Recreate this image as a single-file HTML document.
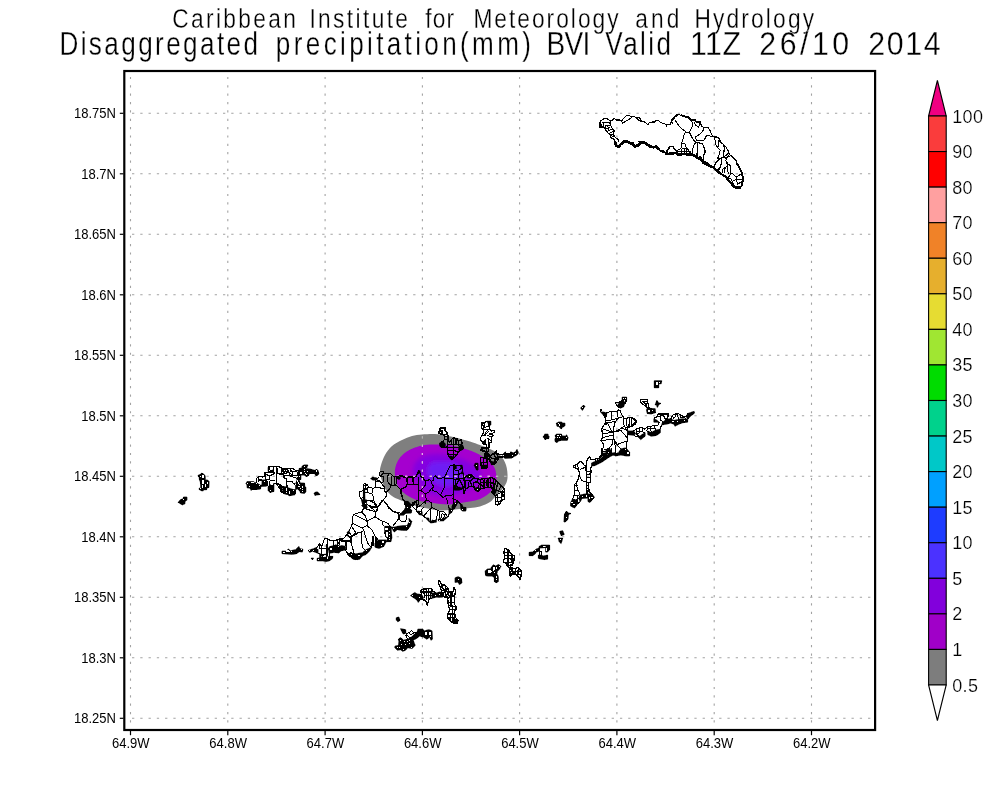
<!DOCTYPE html>
<html><head><meta charset="utf-8"><title>Disaggregated precipitation BVI</title>
<style>html,body{margin:0;padding:0;background:#fff}body{width:1000px;height:800px;overflow:hidden}svg{display:block}text{font-family:"Liberation Sans",sans-serif;fill:#000}.thin{stroke:#fff;stroke-width:.3px;paint-order:fill stroke}.isl{fill:#fff;stroke:#000;stroke-width:1;stroke-linejoin:round}.in{fill:none;stroke:#000;stroke-width:.8;stroke-linejoin:round;stroke-linecap:round}.tk{fill:none;stroke:#000;stroke-width:2.2;stroke-linejoin:round;stroke-linecap:round}.blk{fill:#000;stroke:#000;stroke-width:1;stroke-linejoin:round}</style></head><body>
<svg width="1000" height="800" viewBox="0 0 1000 800">
<rect width="1000" height="800" fill="#fff"/>
<defs><filter id="nf" x="-5%" y="-50%" width="110%" height="200%"><feOffset dx="0" dy="0"/></filter></defs>
<g id="titles" filter="url(#nf)">
<g font-size="28.4" class="thin">
<text transform="scale(0.8,1)" x="215.37" y="27.7" textLength="154.58" lengthAdjust="spacing">Caribbean</text>
<text transform="scale(0.8,1)" x="386.75" y="27.7" textLength="123.25" lengthAdjust="spacing">Institute</text>
<text transform="scale(0.8,1)" x="531.58" y="27.7" textLength="36.12" lengthAdjust="spacing">for</text>
<text transform="scale(0.8,1)" x="591.73" y="27.7" textLength="181.50" lengthAdjust="spacing">Meteorology</text>
<text transform="scale(0.8,1)" x="794.12" y="27.7" textLength="55.22" lengthAdjust="spacing">and</text>
<text transform="scale(0.8,1)" x="868.00" y="27.7" textLength="149.57" lengthAdjust="spacing">Hydrology</text>
</g>
<g font-size="32.6" class="thin">
<text transform="scale(0.8,1)" x="74.25" y="54.7" textLength="248.25" lengthAdjust="spacing">Disaggregated</text>
<text transform="scale(0.8,1)" x="344.85" y="54.7" textLength="318.85" lengthAdjust="spacing">precipitation(mm)</text>
<text transform="scale(0.86,1)" x="635.42" y="54.7" textLength="51.07" lengthAdjust="spacing">BVI</text>
<text transform="scale(0.8,1)" x="756.62" y="54.7" textLength="82.07" lengthAdjust="spacing">Valid</text>
<text transform="scale(0.93,1)" x="741.91" y="54.7" textLength="54.95" lengthAdjust="spacing">11Z</text>
<text transform="scale(0.93,1)" x="816.54" y="54.7" textLength="96.43" lengthAdjust="spacing">26/10</text>
<text transform="scale(0.93,1)" x="933.72" y="54.7" textLength="77.61" lengthAdjust="spacing">2014</text>
</g>
</g>
<defs><filter id="b1" x="-10%" y="-10%" width="120%" height="120%"><feGaussianBlur stdDeviation="0.5"/></filter><filter id="b2" x="-20%" y="-20%" width="140%" height="140%"><feGaussianBlur stdDeviation="2.2"/></filter><clipPath id="cpG"><path d="M380.0 472.0C379.8 469.3 380.2 467.8 381.0 465.0C381.8 462.2 383.2 458.2 385.0 455.0C386.8 451.8 389.2 448.5 392.0 446.0C394.8 443.5 398.7 441.7 402.0 440.0C405.3 438.3 408.7 436.9 412.0 436.0C415.3 435.1 418.2 434.8 422.0 434.5C425.8 434.2 431.2 433.8 435.0 434.0C438.8 434.2 441.7 434.9 445.0 435.5C448.3 436.1 450.8 436.5 455.0 437.5C459.2 438.5 465.8 440.2 470.0 441.5C474.2 442.8 476.7 443.8 480.0 445.0C483.3 446.2 486.7 447.3 490.0 449.0C493.3 450.7 497.3 452.3 500.0 455.0C502.7 457.7 504.8 461.2 506.0 465.0C507.2 468.8 507.8 474.3 507.5 478.0C507.2 481.7 506.1 483.8 504.0 487.0C501.9 490.2 497.3 494.5 495.0 497.0C492.7 499.5 492.5 500.4 490.0 502.0C487.5 503.6 483.3 505.5 480.0 506.5C476.7 507.5 473.3 507.6 470.0 508.0C466.7 508.4 463.3 508.7 460.0 509.0C456.7 509.3 453.3 509.8 450.0 510.0C446.7 510.2 443.3 510.7 440.0 510.5C436.7 510.3 433.3 509.6 430.0 509.0C426.7 508.4 423.3 507.8 420.0 507.0C416.7 506.2 413.3 505.2 410.0 504.0C406.7 502.8 403.0 501.3 400.0 500.0C397.0 498.7 394.3 497.7 392.0 496.0C389.7 494.3 387.7 492.5 386.0 490.0C384.3 487.5 383.0 484.0 382.0 481.0C381.0 478.0 380.2 474.7 380.0 472.0Z"/></clipPath><clipPath id="cpP"><path d="M395.0 475.0C394.6 471.8 394.8 469.7 395.5 467.0C396.2 464.3 397.2 461.5 399.0 459.0C400.8 456.5 403.3 453.9 406.0 452.0C408.7 450.1 411.8 448.7 415.0 447.5C418.2 446.3 421.7 445.5 425.0 445.0C428.3 444.5 430.8 444.5 435.0 444.5C439.2 444.5 444.2 444.0 450.0 445.0C455.8 446.0 465.0 448.8 470.0 450.5C475.0 452.2 476.7 453.1 480.0 455.0C483.3 456.9 487.5 459.7 490.0 462.0C492.5 464.3 493.9 466.3 495.0 469.0C496.1 471.7 496.5 475.3 496.5 478.0C496.5 480.7 495.9 482.8 495.0 485.0C494.1 487.2 492.3 489.3 491.0 491.0C489.7 492.7 488.8 493.7 487.0 495.0C485.2 496.3 482.8 497.9 480.0 499.0C477.2 500.1 473.3 500.8 470.0 501.5C466.7 502.2 463.3 502.5 460.0 503.0C456.7 503.5 453.3 504.3 450.0 504.5C446.7 504.7 443.3 504.3 440.0 504.0C436.7 503.7 433.3 503.0 430.0 502.5C426.7 502.0 423.0 501.8 420.0 501.0C417.0 500.2 414.7 499.3 412.0 498.0C409.3 496.7 406.3 495.0 404.0 493.0C401.7 491.0 399.5 489.0 398.0 486.0C396.5 483.0 395.4 478.2 395.0 475.0Z"/></clipPath></defs>
<g id="shade">
<g filter="url(#b1)"><path d="M380.0 472.0C379.8 469.3 380.2 467.8 381.0 465.0C381.8 462.2 383.2 458.2 385.0 455.0C386.8 451.8 389.2 448.5 392.0 446.0C394.8 443.5 398.7 441.7 402.0 440.0C405.3 438.3 408.7 436.9 412.0 436.0C415.3 435.1 418.2 434.8 422.0 434.5C425.8 434.2 431.2 433.8 435.0 434.0C438.8 434.2 441.7 434.9 445.0 435.5C448.3 436.1 450.8 436.5 455.0 437.5C459.2 438.5 465.8 440.2 470.0 441.5C474.2 442.8 476.7 443.8 480.0 445.0C483.3 446.2 486.7 447.3 490.0 449.0C493.3 450.7 497.3 452.3 500.0 455.0C502.7 457.7 504.8 461.2 506.0 465.0C507.2 468.8 507.8 474.3 507.5 478.0C507.2 481.7 506.1 483.8 504.0 487.0C501.9 490.2 497.3 494.5 495.0 497.0C492.7 499.5 492.5 500.4 490.0 502.0C487.5 503.6 483.3 505.5 480.0 506.5C476.7 507.5 473.3 507.6 470.0 508.0C466.7 508.4 463.3 508.7 460.0 509.0C456.7 509.3 453.3 509.8 450.0 510.0C446.7 510.2 443.3 510.7 440.0 510.5C436.7 510.3 433.3 509.6 430.0 509.0C426.7 508.4 423.3 507.8 420.0 507.0C416.7 506.2 413.3 505.2 410.0 504.0C406.7 502.8 403.0 501.3 400.0 500.0C397.0 498.7 394.3 497.7 392.0 496.0C389.7 494.3 387.7 492.5 386.0 490.0C384.3 487.5 383.0 484.0 382.0 481.0C381.0 478.0 380.2 474.7 380.0 472.0Z" fill="#7f7f7f"/>
<path d="M395.0 475.0C394.6 471.8 394.8 469.7 395.5 467.0C396.2 464.3 397.2 461.5 399.0 459.0C400.8 456.5 403.3 453.9 406.0 452.0C408.7 450.1 411.8 448.7 415.0 447.5C418.2 446.3 421.7 445.5 425.0 445.0C428.3 444.5 430.8 444.5 435.0 444.5C439.2 444.5 444.2 444.0 450.0 445.0C455.8 446.0 465.0 448.8 470.0 450.5C475.0 452.2 476.7 453.1 480.0 455.0C483.3 456.9 487.5 459.7 490.0 462.0C492.5 464.3 493.9 466.3 495.0 469.0C496.1 471.7 496.5 475.3 496.5 478.0C496.5 480.7 495.9 482.8 495.0 485.0C494.1 487.2 492.3 489.3 491.0 491.0C489.7 492.7 488.8 493.7 487.0 495.0C485.2 496.3 482.8 497.9 480.0 499.0C477.2 500.1 473.3 500.8 470.0 501.5C466.7 502.2 463.3 502.5 460.0 503.0C456.7 503.5 453.3 504.3 450.0 504.5C446.7 504.7 443.3 504.3 440.0 504.0C436.7 503.7 433.3 503.0 430.0 502.5C426.7 502.0 423.0 501.8 420.0 501.0C417.0 500.2 414.7 499.3 412.0 498.0C409.3 496.7 406.3 495.0 404.0 493.0C401.7 491.0 399.5 489.0 398.0 486.0C396.5 483.0 395.4 478.2 395.0 475.0Z" fill="#a500cf"/></g>
<g clip-path="url(#cpP)"><g filter="url(#b2)"><path d="M414.9 463.8C416.6 460.8 419.9 457.6 424.0 456.0C428.1 454.4 434.0 453.8 439.6 454.0C445.2 454.2 452.2 455.4 457.8 457.3C463.4 459.2 469.5 462.3 473.4 465.1C477.3 467.9 480.8 470.9 481.2 474.2C481.6 477.4 479.0 481.6 476.0 484.6C473.0 487.6 468.0 490.4 463.0 492.4C458.0 494.3 451.5 496.1 446.1 496.3C440.7 496.5 434.8 495.4 430.5 493.7C426.2 492.0 422.9 489.1 420.1 485.9C417.3 482.6 414.5 477.9 413.6 474.2C412.7 470.5 413.2 466.8 414.9 463.8Z" fill="#8400e0"/>
<path d="M431.9 462.8C436.0 461.3 447.5 461.5 452.4 462.8C457.3 464.1 460.2 467.6 461.2 470.6C462.2 473.6 461.2 478.4 458.6 481.0C456.1 483.6 450.1 486.2 445.9 486.2C441.7 486.2 436.2 483.4 433.2 481.0C430.2 478.6 428.2 474.9 428.0 471.9C427.8 468.9 427.8 464.3 431.9 462.8Z" fill="#6e1ef4"/></g></g>
</g>
<g id="grid" fill="none" stroke="#a2a2a2" stroke-width="1.1">
<g stroke-dasharray="2.2 6.156">
<path d="M130.5 76.9V728.5"/>
<path d="M227.8 76.9V728.5"/>
<path d="M325.1 76.9V728.5"/>
<path d="M422.4 76.9V728.5"/>
<path d="M519.6 76.9V728.5"/>
<path d="M616.9 76.9V728.5"/>
<path d="M714.2 76.9V728.5"/>
<path d="M811.5 76.9V728.5"/>
</g><g stroke-dasharray="2.3 5.97">
<path d="M132 113.3H873"/>
<path d="M132 173.8H873"/>
<path d="M132 234.3H873"/>
<path d="M132 294.8H873"/>
<path d="M132 355.3H873"/>
<path d="M132 415.8H873"/>
<path d="M132 476.3H873"/>
<path d="M132 536.8H873"/>
<path d="M132 597.3H873"/>
<path d="M132 657.8H873"/>
<path d="M132 718.3H873"/>
</g></g>
<g fill="none" stroke-width="1.15">
<g clip-path="url(#cpG)" stroke="#b2b2b2"><path stroke-dasharray="2.2 6.156" d="M422.4 76.9V728.5"/><path stroke-dasharray="2.3 5.97" d="M132 476.3H873"/></g>
<g clip-path="url(#cpP)" stroke="#e6a6ec"><path stroke-dasharray="2.2 6.156" d="M422.4 76.9V728.5"/><path stroke-dasharray="2.3 5.97" d="M132 476.3H873"/></g>
</g>
<g id="islands" fill="none" stroke="#000" stroke-linejoin="round" stroke-linecap="butt" shape-rendering="crispEdges">
<path d="M600.2 121.6L603.4 118.8L607.0 118.4L610.6 121.2L614.2 118.4L616.2 120.0L619.8 120.0L621.8 121.2L622.6 119.2L627.0 115.2L630.2 116.0L633.4 116.4L636.6 117.6L639.8 118.0L641.4 121.2L644.6 122.0L648.2 124.8L649.4 122.4L654.2 122.0L655.8 120.4L658.6 120.8L661.4 122.8L666.2 124.4L666.6 126.0L667.0 124.4L670.6 124.0L671.8 120.4L675.0 117.6" stroke-width="1.0"/>
<path d="M610.6 121.2L614.2 118.4L616.2 120.0L619.8 120.0" stroke-width="1.3"/>
<path d="M621.8 121.2L622.6 123.2L631.8 117.6L630.2 116.0" stroke-width="1.0"/>
<path d="M636.6 117.6L639.8 118.0L641.4 121.2L638.6 120.4L636.6 117.6" stroke-width="1.3"/>
<path d="M649.4 122.4L654.2 122.0L655.8 120.4L658.6 120.8" stroke-width="1.3"/>
<path d="M600.2 121.6L600.2 127.2L603.8 127.2" stroke-width="2.0"/>
<path d="M600.2 121.6L603.4 118.8L607.0 118.4L610.6 121.2L610.6 125.2" stroke-width="1.3"/>
<path d="M603.8 122.0L603.8 127.2" stroke-width="1.0"/>
<path d="M601.8 122.0L609.4 122.0L610.6 125.2L605.4 125.6" stroke-width="1.0"/>
<path d="M601.8 123.6L601.8 127.2" stroke-width="1.0"/>
<path d="M603.8 127.2L605.4 129.2L607.8 132.8L610.2 134.8L611.0 138.0L614.2 139.2L615.0 142.0" stroke-width="1.3"/>
<path d="M610.6 125.2L612.2 128.4L614.6 131.2L613.0 134.0L615.8 138.0L618.6 139.6L618.2 142.0" stroke-width="1.0"/>
<path d="M605.4 129.2L610.2 126.8" stroke-width="1.0"/>
<path d="M607.0 131.6L612.2 128.8" stroke-width="1.0"/>
<path d="M608.6 133.6L614.2 131.2" stroke-width="1.0"/>
<path d="M610.6 135.6L613.0 134.0" stroke-width="1.0"/>
<path d="M611.4 137.6L614.2 135.6" stroke-width="1.0"/>
<path d="M605.4 125.6L605.4 129.2" stroke-width="1.0"/>
<path d="M607.8 126.0L609.0 130.0" stroke-width="1.0"/>
<path d="M615.0 142.0L616.2 145.6L618.6 146.8L620.6 144.4L623.8 141.6L627.0 141.2L629.4 142.8L631.8 143.6L635.0 146.4L638.2 145.2L640.6 142.4L644.6 142.8L647.0 144.4L650.2 146.4L653.4 147.2L656.6 146.8L659.0 149.2" stroke-width="2.8"/>
<path d="M659.0 149.2L661.4 151.6L664.6 152.4L667.0 153.6L671.0 154.0L675.0 153.2" stroke-width="1.3"/>
<path d="M661.4 150.0L663.8 150.0L664.6 152.4" stroke-width="1.0"/>
<path d="M667.0 153.6L667.8 150.0L670.2 146.8L673.0 146.4L674.2 149.2L675.0 150.0" stroke-width="1.0"/>
<path d="M666.2 153.6L671.0 154.0L675.0 153.2" stroke-width="2.0"/>
<path d="M630.2 142.0L633.4 142.4L633.4 144.0" stroke-width="1.0"/>
<path d="M638.2 142.0L643.0 141.6" stroke-width="1.0"/>
<path d="M654.6 145.2L657.0 145.2" stroke-width="1.0"/>
<path d="M665.0 124.8L666.6 124.8L666.6 126.4L667.0 124.4L670.6 124.0L671.4 120.4" stroke-width="1.0"/>
<path d="M671.4 120.4L674.6 116.8L677.8 114.4" stroke-width="2.0"/>
<path d="M677.8 114.4L681.0 115.2" stroke-width="1.0"/>
<path d="M681.0 115.2L685.0 116.4L689.0 117.6L691.4 120.0" stroke-width="2.0"/>
<path d="M691.4 120.0L695.4 120.0L696.2 122.0L700.2 122.0L701.4 126.0L703.4 127.2" stroke-width="1.3"/>
<path d="M670.2 122.0L672.6 122.0L672.6 124.0" stroke-width="1.0"/>
<path d="M703.4 127.2L707.8 127.2L709.8 130.0L711.4 134.0L713.8 136.8" stroke-width="1.0"/>
<path d="M713.8 136.8L717.0 137.2L719.8 139.2L720.2 142.0" stroke-width="1.3"/>
<path d="M720.2 142.0L723.4 144.4L725.8 146.8L728.2 150.8L729.8 154.8L733.0 157.2L735.8 160.4L737.8 165.2L740.2 169.2L741.8 174.0" stroke-width="1.0"/>
<path d="M733.0 157.2L735.8 160.4L737.8 165.2L740.2 169.2L741.8 174.0" stroke-width="1.3"/>
<path d="M665.0 153.6L669.0 154.0L673.0 152.8L677.0 153.2L678.6 154.8L683.4 154.0L688.2 154.4L692.2 154.4L695.4 156.4L697.8 158.0L701.0 159.6L703.4 162.8L706.6 164.4L709.8 166.0L713.0 167.2L716.2 170.0L719.4 173.2" stroke-width="2.6"/>
<path d="M666.6 151.6L667.4 150.0L669.8 146.8L672.6 146.4L675.4 150.0L677.0 151.6" stroke-width="1.3"/>
<path d="M677.8 150.0L681.0 148.4L682.2 143.6L685.0 143.6L686.2 147.6L689.0 150.8L691.4 153.6" stroke-width="1.0"/>
<path d="M677.8 150.0L677.8 153.6" stroke-width="1.0"/>
<path d="M681.0 148.4L681.4 153.2" stroke-width="1.0"/>
<path d="M684.2 147.6L684.2 153.2" stroke-width="1.0"/>
<path d="M686.2 147.6L686.6 153.2" stroke-width="1.0"/>
<path d="M689.0 150.8L689.0 154.0" stroke-width="1.0"/>
<path d="M677.8 151.6L690.6 151.6" stroke-width="1.0"/>
<path d="M682.2 148.4L686.2 148.4" stroke-width="1.0"/>
<path d="M696.2 153.2L696.2 156.4" stroke-width="1.0"/>
<path d="M699.4 155.6L702.6 159.6" stroke-width="1.0"/>
<path d="M705.0 161.2L709.8 164.4" stroke-width="1.0"/>
<path d="M675.0 120.0L678.2 124.8L681.8 128.8L686.2 132.0L689.0 132.0" stroke-width="1.0"/>
<path d="M686.2 132.0L684.2 134.0L683.0 138.8L681.8 143.2L681.0 148.4" stroke-width="1.0"/>
<path d="M691.4 120.0L692.6 124.4L691.8 128.0L690.2 130.0L689.8 133.2L691.8 137.2L694.2 140.8L695.8 142.4" stroke-width="1.0"/>
<path d="M695.8 142.4L693.8 145.2L692.6 149.2L692.6 154.4" stroke-width="1.0"/>
<path d="M695.8 142.4L697.4 142.8L697.4 157.2" stroke-width="1.3"/>
<path d="M697.4 142.8L701.8 143.2L703.8 146.8L705.0 151.6L703.8 155.6L703.4 161.2" stroke-width="1.0"/>
<path d="M695.8 142.4L696.2 139.2L695.4 136.8L699.4 134.4L702.6 131.2L703.8 129.2L703.4 127.2" stroke-width="1.0"/>
<path d="M696.2 140.8L700.2 140.8L704.2 140.0L706.2 136.0L708.6 135.6L711.4 136.4L713.8 136.8" stroke-width="1.0"/>
<path d="M694.6 122.0L695.4 125.2L698.6 127.2L700.2 122.0" stroke-width="1.0"/>
<path d="M713.8 136.8L715.4 141.2L716.2 146.0L717.8 147.6L720.2 150.0L719.4 154.0L717.8 158.0L718.2 160.8L715.4 162.8L713.8 167.2" stroke-width="1.0"/>
<path d="M719.8 139.2L718.2 142.0L718.6 146.0L717.0 146.8" stroke-width="1.0"/>
<path d="M723.4 144.4L724.6 148.4L723.8 153.2L723.8 157.2L721.0 158.0L717.8 158.0" stroke-width="1.0"/>
<path d="M723.8 157.2L726.6 158.0L729.0 154.8" stroke-width="1.0"/>
<path d="M726.6 158.0L725.8 160.4L727.4 164.4L728.2 174.0" stroke-width="1.0"/>
<path d="M721.0 158.0L721.8 162.8L720.2 167.6L718.6 170.8" stroke-width="1.0"/>
<path d="M727.4 164.4L730.6 165.2L730.6 174.0" stroke-width="1.0"/>
<path d="M725.8 167.2L723.0 168.8L722.2 173.2" stroke-width="1.0"/>
<path d="M730.1 155.2L732.8 157.5L735.5 159.6L736.8 162.9" stroke-width="1.0"/>
<path d="M736.8 162.9L738.2 165.6L740.2 169.0L741.6 172.4L742.6 176.4L742.6 180.5L742.2 184.5L740.9 187.2" stroke-width="2.0"/>
<path d="M740.9 187.2L736.8 187.9L734.1 186.6L732.1 183.9" stroke-width="3.0"/>
<path d="M732.1 183.9L729.4 181.2L727.4 179.1L726.7 177.1L723.3 175.4L720.6 173.4L717.9 171.0L714.6 168.3L711.9 167.0L708.5 165.0L705.1 162.9L702.4 160.9L699.7 158.2L697.0 156.9L695.0 156.2" stroke-width="2.0"/>
<path d="M697.7 142.7L701.7 143.4L704.4 147.4L705.5 152.5L703.4 154.8L703.4 160.2" stroke-width="1.0"/>
<path d="M718.6 160.2L721.3 157.5L724.0 157.2L728.7 152.8" stroke-width="1.0"/>
<path d="M724.0 157.2L723.3 151.5L724.7 148.8" stroke-width="1.0"/>
<path d="M724.0 157.2L726.7 158.9L725.7 160.2L728.1 164.3L730.8 165.6L730.8 173.7L729.4 176.4L727.4 177.8" stroke-width="1.0"/>
<path d="M721.3 157.5L721.7 161.6L720.0 167.0L717.9 170.4" stroke-width="1.0"/>
<path d="M715.6 162.3L714.6 167.0" stroke-width="1.0"/>
<path d="M718.6 160.2L715.6 162.3" stroke-width="1.0"/>
<path d="M728.1 164.3L726.0 167.0L722.7 169.0L722.0 173.1" stroke-width="1.0"/>
<path d="M725.4 167.7L724.4 170.4L724.7 173.1" stroke-width="1.0"/>
<path d="M730.8 173.7L732.1 173.1L734.8 175.8L736.5 177.1L741.6 173.7" stroke-width="1.0"/>
<path d="M736.5 177.1L736.8 179.1L742.6 179.1" stroke-width="1.0"/>
<path d="M736.8 179.1L732.8 181.2L732.1 183.9" stroke-width="1.0"/>
<path d="M736.8 179.1L737.2 184.5L741.6 181.8" stroke-width="1.0"/>
<path d="M727.4 179.1L730.1 177.8L731.8 180.5" stroke-width="1.0"/>
<path d="M728.1 155.2L729.1 156.5L727.4 156.9" stroke-width="1.0"/>
<path d="M178.2 502.4L180.4 499.6L183.2 499.0L183.5 497.1L186.9 497.1L186.9 500.2L184.9 501.6L184.9 503.8L182.1 504.9L180.1 503.5Z" fill="#000" stroke-width="0.8"/>
<circle cx="183.9" cy="499.4" r="0.6" fill="#fff" stroke="none"/>
<path d="M198.1 475.4L200.4 474.3L201.8 473.2L203.7 474.0L205.2 476.0L205.4 479.9L207.4 480.2L209.1 481.3L208.8 487.5L206.8 487.8L206.6 489.7L203.7 489.7L203.2 490.9L201.2 490.6L199.2 489.5L199.2 488.3L200.7 487.8L200.4 481.9L199.5 480.2L199.2 477.1L198.1 476.2Z" fill="#000" stroke-width="0.8"/>
<path d="M200.4 476.2L201.4 476.2L201.5 479.6L200.7 479.3Z" fill="#fff" stroke="none"/>
<path d="M201.8 474.6L203.5 474.8L204.0 477.9L202.9 478.5L202.1 477.1Z" fill="#fff" stroke="none"/>
<path d="M201.9 479.6L203.7 480.2L203.7 483.6L202.3 483.6Z" fill="#fff" stroke="none"/>
<path d="M201.8 485.0L203.0 485.0L203.0 487.5L201.8 487.5Z" fill="#fff" stroke="none"/>
<path d="M204.8 484.1L206.0 484.1L206.0 486.7L205.2 486.7Z" fill="#fff" stroke="none"/>
<path d="M206.8 481.9L208.2 481.9L208.2 484.1L206.8 484.1Z" fill="#fff" stroke="none"/>
<circle cx="200.7" cy="488.6" r="0.5" fill="#fff" stroke="none"/>
<path d="M247.0 481.5L253.8 481.5L254.0 482.8L256.2 482.5L258.0 484.0L260.5 485.0L260.8 486.5L260.5 489.0L256.5 489.5L251.5 489.5L251.2 490.5L250.0 488.0L247.2 487.8L247.0 485.0L246.0 483.5Z" fill="#000" stroke-width="0.8"/>
<circle cx="249.5" cy="486.2" r="0.6" fill="#fff" stroke="none"/>
<circle cx="256.5" cy="483.4" r="0.6" fill="#fff" stroke="none"/>
<circle cx="259.5" cy="485.5" r="0.6" fill="#fff" stroke="none"/>
<circle cx="247.4" cy="483.8" r="0.6" fill="#fff" stroke="none"/>
<path d="M251.2 482.4L253.8 482.4L253.8 483.4L252.5 483.4Z" fill="#fff" stroke="none"/>
<path d="M262.2 480.0L266.5 480.0L266.5 486.2L260.8 486.5L262.0 484.0Z" fill="#000" stroke-width="0.8"/>
<circle cx="264.2" cy="481.2" r="0.6" fill="#fff" stroke="none"/>
<path d="M268.2 486.5L270.0 485.0L273.8 483.5L273.8 491.5L271.5 491.8L270.5 493.0L268.2 490.5Z" fill="#000" stroke-width="0.8"/>
<circle cx="270.5" cy="490.2" r="0.6" fill="#fff" stroke="none"/>
<path d="M270.0 482.0L273.0 482.0L273.0 485.0L271.0 485.0L271.0 484.0L270.0 484.0Z" fill="#fff" stroke="none"/>
<path d="M268.2 467.2L270.2 467.2L270.2 470.0L272.8 470.0L272.8 471.6L268.2 471.6Z" fill="#000" stroke-width="0.8"/>
<circle cx="269.5" cy="470.5" r="0.6" fill="#fff" stroke="none"/>
<path d="M270.4 467.2L271.9 467.2L271.9 469.8L270.4 469.8Z" fill="#fff" stroke="none"/>
<path d="M283.0 487.2L287.0 487.5L293.0 489.5L293.0 494.5L289.8 495.8L288.0 494.5L285.0 493.5L283.0 492.0Z" fill="#000" stroke-width="0.8"/>
<path d="M286.0 488.0L287.0 488.0L287.0 490.8L286.0 490.8Z" fill="#fff" stroke="none"/>
<path d="M288.8 491.0L289.8 491.0L289.8 494.2L288.8 494.2Z" fill="#fff" stroke="none"/>
<circle cx="286.4" cy="492.5" r="0.6" fill="#fff" stroke="none"/>
<path d="M256.2 482.5L256.2 478.5L258.0 477.5L260.0 476.0L262.2 477.2L263.0 476.5L264.5 476.5L264.5 473.0L265.5 472.0L268.2 472.0L268.2 467.2L270.2 466.0L278.8 466.0L279.5 467.2L281.5 467.5L282.2 469.2L287.0 469.2L287.5 468.2L293.0 468.2" stroke-width="1.0"/>
<path d="M273.0 466.8L273.0 471.6" stroke-width="1.0"/>
<path d="M276.0 466.8L276.0 483.5" stroke-width="1.0"/>
<path d="M268.2 472.0L275.0 472.0" stroke-width="1.0"/>
<path d="M264.5 473.5L269.5 476.0L275.0 473.2" stroke-width="1.0"/>
<path d="M269.5 476.0L270.0 480.0L275.0 480.5" stroke-width="1.0"/>
<path d="M265.0 475.0L265.0 479.5L269.0 479.8" stroke-width="1.0"/>
<path d="M258.0 477.5L258.0 479.0L262.2 479.0" stroke-width="1.0"/>
<path d="M258.0 480.0L258.0 482.2" stroke-width="1.0"/>
<path d="M258.5 480.0L262.0 480.0" stroke-width="1.0"/>
<path d="M256.2 482.5L258.0 484.0" stroke-width="1.0"/>
<path d="M267.0 481.0L267.0 486.0" stroke-width="1.0"/>
<path d="M269.0 481.0L269.0 486.0" stroke-width="1.0"/>
<path d="M277.0 467.5L277.0 473.0L280.0 474.2L281.5 472.0L282.2 469.2" stroke-width="1.0"/>
<path d="M280.0 474.2L284.0 475.0L284.5 478.5L286.5 479.0L287.0 485.0L287.0 487.5" stroke-width="1.0"/>
<path d="M276.0 483.1L280.0 484.5L282.0 486.0L283.5 488.0" stroke-width="1.0"/>
<path d="M277.5 485.0L281.0 491.0L283.0 492.0" stroke-width="1.0"/>
<path d="M279.0 485.0L282.5 492.0" stroke-width="1.0"/>
<path d="M284.0 475.0L293.0 475.0" stroke-width="1.0"/>
<path d="M286.5 481.5L291.0 481.5L293.0 482.0" stroke-width="1.0"/>
<path d="M283.0 470.0L284.5 473.0L287.0 473.2L288.0 470.0" stroke-width="1.0"/>
<path d="M283.0 470.0L281.5 473.0L284.5 473.0" stroke-width="1.0"/>
<path d="M288.0 470.0L289.0 473.0L291.0 474.0L293.0 474.5" stroke-width="1.0"/>
<path d="M290.0 469.5L291.0 472.0L293.0 471.5" stroke-width="1.0"/>
<path d="M273.8 483.5L275.5 483.2L277.5 485.0" stroke-width="1.0"/>
<path d="M299.0 470.8L299.2 468.5L302.0 468.0L302.2 466.0L304.2 465.0L307.8 465.0L306.5 468.5L310.5 469.2L315.0 470.5L316.5 469.0L318.2 470.8L318.8 474.0L317.5 475.5L315.5 475.5L315.0 473.5L309.5 473.5L308.5 475.5L306.5 476.5L304.0 475.0L301.0 475.0L297.5 475.0L297.5 472.0Z" fill="#000" stroke-width="0.8"/>
<path d="M300.0 472.0L302.0 472.0L302.0 474.0L300.0 474.0Z" fill="#fff" stroke="none"/>
<circle cx="304.5" cy="466.5" r="0.6" fill="#fff" stroke="none"/>
<circle cx="304.5" cy="469.2" r="0.6" fill="#fff" stroke="none"/>
<circle cx="304.5" cy="471.5" r="0.6" fill="#fff" stroke="none"/>
<circle cx="307.2" cy="471.5" r="0.6" fill="#fff" stroke="none"/>
<circle cx="305.8" cy="473.4" r="0.5" fill="#fff" stroke="none"/>
<circle cx="306.5" cy="474.2" r="0.5" fill="#fff" stroke="none"/>
<path d="M316.5 470.2L317.1 472.0L316.0 472.0Z" fill="#fff" stroke="none"/>
<path d="M297.5 475.0L300.8 475.0L300.8 479.5L299.2 479.8L300.0 483.0L304.5 483.2L304.8 487.0L305.8 487.2L305.8 492.0L304.5 493.5L300.5 492.8L300.0 491.0L297.5 489.0L295.5 489.5L295.5 484.5L297.0 480.0Z" fill="#000" stroke-width="0.8"/>
<circle cx="297.5" cy="481.0" r="0.55" fill="#fff" stroke="none"/>
<circle cx="298.5" cy="483.0" r="0.55" fill="#fff" stroke="none"/>
<circle cx="299.5" cy="484.5" r="0.55" fill="#fff" stroke="none"/>
<circle cx="299.0" cy="486.5" r="0.55" fill="#fff" stroke="none"/>
<circle cx="300.2" cy="488.5" r="0.55" fill="#fff" stroke="none"/>
<circle cx="302.5" cy="487.0" r="0.55" fill="#fff" stroke="none"/>
<circle cx="302.5" cy="489.5" r="0.55" fill="#fff" stroke="none"/>
<circle cx="302.5" cy="491.5" r="0.55" fill="#fff" stroke="none"/>
<circle cx="303.5" cy="486.0" r="0.5" fill="#fff" stroke="none"/>
<circle cx="295.5" cy="484.5" r="0.55" fill="#fff" stroke="none"/>
<circle cx="299.2" cy="476.2" r="0.5" fill="#fff" stroke="none"/>
<circle cx="297.5" cy="476.5" r="0.5" fill="#fff" stroke="none"/>
<path d="M283.5 486.5L287.5 487.2L289.5 490.0L292.5 489.5L295.5 489.5L295.5 494.0L294.5 494.8L289.5 495.5L287.5 494.5L283.5 493.5L283.0 490.0Z" fill="#000" stroke-width="0.8"/>
<path d="M285.8 488.0L286.8 488.0L286.8 490.5L285.8 490.5Z" fill="#fff" stroke="none"/>
<path d="M289.0 491.0L289.9 491.0L289.9 494.2L289.0 494.2Z" fill="#fff" stroke="none"/>
<circle cx="286.2" cy="492.5" r="0.6" fill="#fff" stroke="none"/>
<circle cx="293.5" cy="490.2" r="0.6" fill="#fff" stroke="none"/>
<path d="M280.0 467.5L281.5 468.5L287.0 468.2L292.5 468.2L295.5 470.5L299.0 470.8" stroke-width="1.0"/>
<path d="M280.0 474.0L283.0 475.0L283.5 477.5L286.0 479.0L286.5 481.0L286.2 486.5" stroke-width="1.0"/>
<path d="M286.5 481.0L291.5 481.5L295.0 484.5" stroke-width="1.0"/>
<path d="M283.0 475.0L289.0 475.5L297.0 475.0" stroke-width="1.0"/>
<path d="M289.0 475.5L297.0 478.5" stroke-width="1.0"/>
<path d="M292.0 471.8L297.0 471.8L297.0 475.0L292.0 475.0L292.0 471.8" stroke-width="1.0"/>
<path d="M282.0 469.5L285.0 474.0" stroke-width="1.0"/>
<path d="M285.0 469.0L287.0 474.0" stroke-width="1.0"/>
<path d="M287.5 469.0L290.0 474.5" stroke-width="1.0"/>
<path d="M290.0 469.0L292.5 471.5" stroke-width="1.0"/>
<path d="M281.5 471.5L286.5 471.5" stroke-width="1.0"/>
<path d="M280.0 474.5L281.5 473.0L281.5 468.5" stroke-width="1.0"/>
<path d="M280.0 486.0L282.0 486.5L283.5 486.5" stroke-width="1.0"/>
<path d="M281.5 486.5L281.0 489.0L283.0 490.0" stroke-width="1.0"/>
<path d="M280.0 490.0L281.5 492.0L283.5 493.5" stroke-width="1.0"/>
<path d="M314.0 493.2L316.0 492.0L318.0 492.2L320.0 494.5L316.0 495.0L315.2 495.8Z" fill="#000" stroke-width="0.8"/>
<path d="M282.0 551.2L285.6 551.2L288.4 549.2L290.8 550.8L295.6 549.6L298.8 546.4L300.0 548.8L302.8 549.2L302.4 552.0L299.6 551.6L296.4 553.6L292.4 554.4L287.6 554.0L282.0 553.6Z" fill="#000" stroke-width="0.8"/>
<path d="M282.8 551.8L285.2 551.8L285.2 553.0L282.8 553.0Z" fill="#fff" stroke="none"/>
<path d="M286.0 550.6L288.4 550.0L290.0 551.0L290.0 552.4L286.0 552.4Z" fill="#fff" stroke="none"/>
<circle cx="291.4" cy="551.4" r="0.6" fill="#fff" stroke="none"/>
<circle cx="301.6" cy="549.4" r="0.6" fill="#fff" stroke="none"/>
<path d="M308.4 550.4L313.2 548.8L317.2 547.2L318.0 550.0L318.0 553.2L312.4 551.2L309.6 552.4Z" fill="#000" stroke-width="0.8"/>
<circle cx="309.6" cy="550.6" r="0.6" fill="#fff" stroke="none"/>
<circle cx="313.2" cy="550.4" r="0.6" fill="#fff" stroke="none"/>
<circle cx="317.6" cy="548.6" r="0.6" fill="#fff" stroke="none"/>
<path d="M329.2 546.8L334.0 545.6L338.8 546.0L341.2 546.0L345.2 546.8L345.2 550.0L341.2 550.8L338.8 552.8L334.0 552.4L329.2 553.2L328.4 549.2Z" fill="#000" stroke-width="0.8"/>
<path d="M330.4 547.6L331.6 547.6L331.6 550.4L330.4 550.4Z" fill="#fff" stroke="none"/>
<path d="M338.8 546.8L340.0 546.8L340.0 549.2L338.8 549.2Z" fill="#fff" stroke="none"/>
<path d="M342.0 546.4L344.4 546.4L344.4 548.0L342.0 548.0Z" fill="#fff" stroke="none"/>
<path d="M317.2 558.4L319.6 558.0L326.0 557.2L329.2 556.4L332.8 556.4L332.4 558.8L329.2 560.8L326.0 561.6L322.8 560.8L317.2 560.8Z" fill="#000" stroke-width="0.8"/>
<circle cx="318.4" cy="559.6" r="0.6" fill="#fff" stroke="none"/>
<circle cx="327.6" cy="558.0" r="0.6" fill="#fff" stroke="none"/>
<path d="M319.6 554.0L321.2 554.0L321.2 558.0L319.6 558.0Z" fill="#000" stroke-width="0.8"/>
<path d="M311.2 558.2L313.6 558.2L312.4 559.8Z" fill="#000" stroke-width="0.8"/>
<path d="M353.2 554.0L358.0 554.8L358.0 559.6L353.2 559.2L350.8 557.2Z" fill="#000" stroke-width="0.8"/>
<path d="M317.2 547.2L319.6 543.2L321.6 546.4L323.6 542.0L324.4 538.4L327.6 538.4L330.0 540.4L334.0 540.8L337.2 540.4L339.6 538.4L344.4 538.0L346.8 534.8L348.4 531.6L350.0 530.0" stroke-width="1.0"/>
<path d="M324.4 538.4L324.4 540.4" stroke-width="1.3"/>
<path d="M319.6 543.2L319.6 548.8L326.0 548.4L327.6 542.0L327.6 538.4" stroke-width="1.0"/>
<path d="M321.6 546.4L321.6 548.8" stroke-width="1.0"/>
<path d="M326.0 548.4L326.0 557.2" stroke-width="1.0"/>
<path d="M321.2 548.8L321.2 554.0L326.0 554.0" stroke-width="1.0"/>
<path d="M321.2 557.2L326.0 557.2" stroke-width="1.0"/>
<path d="M321.2 548.8L329.2 548.4" stroke-width="1.0"/>
<path d="M327.6 542.0L327.6 556.4" stroke-width="1.0"/>
<path d="M318.0 553.2L319.6 554.0" stroke-width="1.0"/>
<path d="M329.2 553.2L329.2 556.4" stroke-width="1.0"/>
<path d="M322.4 554.0L322.4 557.2" stroke-width="1.0"/>
<path d="M321.2 555.6L324.4 555.6" stroke-width="1.0"/>
<path d="M333.2 540.8L333.2 545.6" stroke-width="1.0"/>
<path d="M337.2 540.4L337.6 545.2L334.0 545.2" stroke-width="1.0"/>
<path d="M339.6 538.4L338.8 542.8L337.6 545.2" stroke-width="1.0"/>
<path d="M340.4 538.4L341.2 541.2L350.0 541.2L350.8 538.0L346.8 534.8" stroke-width="1.0"/>
<path d="M346.0 541.2L346.0 550.0" stroke-width="1.0"/>
<path d="M350.0 541.2L351.6 544.4L353.2 550.0L353.2 554.0" stroke-width="1.0"/>
<path d="M346.0 550.8L348.4 553.2L350.8 552.8L353.2 554.0" stroke-width="1.0"/>
<path d="M350.0 553.2L351.6 556.4" stroke-width="1.0"/>
<path d="M345.2 550.0L346.8 552.4L348.4 554.8L350.8 557.2" stroke-width="1.0"/>
<path d="M346.8 534.8L350.0 538.0L358.0 533.2" stroke-width="1.0"/>
<path d="M348.4 531.6L351.6 535.6" stroke-width="1.0"/>
<path d="M350.0 538.0L350.8 541.2" stroke-width="1.0"/>
<path d="M335.0 544.8L339.0 545.6L341.4 548.8L339.0 552.8L335.0 551.2Z" fill="#000" stroke-width="0.8"/>
<path d="M341.4 545.6L345.4 546.4L345.4 548.8L341.4 548.8Z" fill="#000" stroke-width="0.8"/>
<circle cx="338.6" cy="546.8" r="0.5" fill="#fff" stroke="none"/>
<path d="M352.6 554.4L362.2 552.8L366.2 549.6L371.8 547.2L369.4 551.2L366.2 554.4L362.2 556.0L359.8 559.2L355.0 559.6L352.6 558.4Z" fill="#000" stroke-width="0.8"/>
<circle cx="359.0" cy="555.4" r="0.6" fill="#fff" stroke="none"/>
<circle cx="366.2" cy="550.9" r="0.6" fill="#fff" stroke="none"/>
<path d="M375.0 543.2L378.2 540.0L386.2 540.0L386.2 541.6L383.8 546.4L379.0 548.4L375.0 547.2Z" fill="#000" stroke-width="0.8"/>
<circle cx="383.0" cy="542.0" r="0.7" fill="#fff" stroke="none"/>
<circle cx="381.4" cy="545.6" r="0.6" fill="#fff" stroke="none"/>
<path d="M384.6 526.4L391.0 526.4L391.8 537.6L391.0 541.6L386.2 541.6L387.8 538.4L384.6 532.0Z" fill="#000" stroke-width="0.8"/>
<path d="M385.4 527.6L388.2 527.6L388.2 530.0L385.4 530.0Z" fill="#fff" stroke="none"/>
<path d="M386.0 532.0L388.0 532.0L388.0 537.0L386.6 537.0Z" fill="#fff" stroke="none"/>
<circle cx="389.6" cy="531.2" r="0.55" fill="#fff" stroke="none"/>
<circle cx="389.6" cy="534.4" r="0.55" fill="#fff" stroke="none"/>
<circle cx="389.6" cy="537.2" r="0.55" fill="#fff" stroke="none"/>
<circle cx="389.6" cy="539.6" r="0.55" fill="#fff" stroke="none"/>
<path d="M391.0 527.2L394.2 527.2L397.4 526.4L403.0 525.6L407.0 525.6L409.4 521.6L409.0 518.4L411.8 521.6L410.2 526.4L407.0 530.4L402.2 530.4L397.4 529.6L394.2 532.0L392.6 529.6Z" fill="#000" stroke-width="0.8"/>
<circle cx="393.4" cy="528.2" r="0.6" fill="#fff" stroke="none"/>
<circle cx="407.4" cy="519.6" r="0.5" fill="#fff" stroke="none"/>
<circle cx="409.8" cy="522.6" r="0.5" fill="#fff" stroke="none"/>
<circle cx="406.2" cy="526.4" r="0.5" fill="#fff" stroke="none"/>
<path d="M401.4 512.8L404.6 509.6L407.0 504.8L409.4 508.0L411.8 510.4L411.0 512.8L406.2 512.8L403.8 515.2L399.0 515.2Z" fill="#000" stroke-width="0.8"/>
<path d="M400.6 513.6L403.8 513.6L403.8 514.4L400.6 514.4Z" fill="#fff" stroke="none"/>
<circle cx="407.4" cy="505.6" r="0.6" fill="#fff" stroke="none"/>
<circle cx="407.4" cy="507.6" r="0.6" fill="#fff" stroke="none"/>
<path d="M361.4 500.0L367.0 500.0L366.2 504.0L367.0 508.0L364.6 508.4L363.0 505.6Z" fill="#000" stroke-width="0.8"/>
<circle cx="365.4" cy="503.6" r="0.6" fill="#fff" stroke="none"/>
<path d="M335.0 540.8L338.2 539.2L343.8 538.4L347.0 534.4L350.2 528.8L352.2 524.0L352.2 516.8L354.2 514.4L361.4 512.0L364.6 508.4" stroke-width="1.0"/>
<path d="M347.0 532.4L349.0 530.8L349.8 533.2L347.8 534.0Z" fill="#000" stroke-width="0.8"/>
<path d="M345.4 548.8L346.2 552.0L348.6 555.2L352.6 558.4" stroke-width="1.0"/>
<path d="M354.2 514.4L367.0 521.2L375.0 516.8L375.8 512.0L364.6 508.4" stroke-width="1.0"/>
<path d="M361.4 512.0L365.4 516.0L367.0 521.2" stroke-width="1.0"/>
<path d="M352.2 523.2L362.2 528.0L367.0 525.6L367.0 521.2" stroke-width="1.0"/>
<path d="M367.0 525.6L371.8 529.6L375.0 536.0L378.2 540.0" stroke-width="1.0"/>
<path d="M362.2 528.0L363.8 530.4L365.4 536.0L367.8 543.2L371.0 547.2" stroke-width="1.0"/>
<path d="M363.8 530.4L361.4 532.0L361.4 541.6L363.0 548.0L364.6 549.6" stroke-width="1.0"/>
<path d="M361.4 532.0L355.0 533.6L350.2 536.8" stroke-width="1.0"/>
<path d="M352.2 527.2L355.8 532.8" stroke-width="1.0"/>
<path d="M347.0 534.4L351.0 538.4L351.0 543.2L352.6 548.0L354.2 553.6" stroke-width="1.0"/>
<path d="M343.8 538.4L340.6 540.0L350.2 540.8" stroke-width="1.0"/>
<path d="M345.4 541.6L345.4 546.4" stroke-width="1.0"/>
<path d="M339.8 541.6L339.8 544.8" stroke-width="1.0"/>
<path d="M338.2 539.2L337.4 544.8" stroke-width="1.0"/>
<path d="M348.6 555.2L351.0 552.0L352.6 555.2" stroke-width="1.0"/>
<path d="M349.4 553.2L352.2 557.6" stroke-width="1.0"/>
<path d="M375.0 516.8L381.4 520.8L387.8 523.2L390.2 526.4" stroke-width="1.0"/>
<path d="M382.2 521.2L383.0 524.8L384.6 526.4" stroke-width="1.0"/>
<path d="M375.8 512.0L378.2 506.4L382.2 500.0" stroke-width="1.0"/>
<path d="M383.0 500.0L386.2 503.2L389.4 508.0L394.2 512.0L398.2 513.6L399.0 518.4L392.6 526.4" stroke-width="1.0"/>
<path d="M399.0 518.4L401.4 521.6L405.4 521.6L407.0 518.4L406.2 515.2" stroke-width="1.0"/>
<path d="M399.0 515.2L399.0 518.4" stroke-width="1.0"/>
<path d="M367.0 500.0L371.8 501.6L376.6 504.8L377.4 509.6L375.8 512.0" stroke-width="1.0"/>
<path d="M367.0 504.8L376.6 508.0" stroke-width="1.0"/>
<path d="M371.8 500.0L375.8 505.6" stroke-width="1.0"/>
<path d="M372.6 536.0L372.6 546.4" stroke-width="1.0"/>
<path d="M375.0 536.0L375.0 544.8" stroke-width="1.0"/>
<path d="M373.8 536.0L373.8 546.4" stroke-width="1.0"/>
<path d="M376.6 538.4L376.6 543.2" stroke-width="1.0"/>
<path d="M371.4 541.6L371.4 547.2" stroke-width="1.0"/>
<path d="M384.6 532.0L386.2 537.6L387.8 538.4" stroke-width="1.0"/>
<path d="M370.6 478.6L372.4 477.4L376.0 477.7L377.8 478.6L377.2 479.8L373.0 480.1Z" fill="#000" stroke-width="0.8"/>
<circle cx="373.0" cy="478.7" r="0.55" fill="#fff" stroke="none"/>
<path d="M362.8 499.6L365.2 499.6L366.4 504.4L367.0 508.0L364.0 508.0L361.6 505.6L364.0 503.2Z" fill="#000" stroke-width="0.8"/>
<circle cx="365.5" cy="503.5" r="0.6" fill="#fff" stroke="none"/>
<path d="M363.4 489.4L364.6 489.4L364.9 499.6L363.4 499.6Z" fill="#000" stroke-width="0.8"/>
<path d="M398.2 477.1L400.0 477.4L400.0 479.2L398.2 478.9Z" fill="#000" stroke-width="0.8"/>
<path d="M404.8 501.4L408.4 501.4L410.8 504.4L409.0 508.0L411.4 510.4L411.4 512.8L401.8 513.4L404.8 509.2L406.0 507.4Z" fill="#000" stroke-width="0.8"/>
<circle cx="407.5" cy="505.3" r="0.6" fill="#fff" stroke="none"/>
<circle cx="407.5" cy="507.4" r="0.6" fill="#fff" stroke="none"/>
<path d="M356.8 513.4L361.6 512.2L362.8 509.2L365.8 507.4" stroke-width="1.0"/>
<path d="M364.0 497.2L361.0 498.4L359.2 496.0L359.2 491.8L361.6 491.2L364.0 489.4L363.4 484.6L364.6 483.4L367.6 484.6L368.2 487.0L371.2 487.6L373.0 489.1L375.4 487.0L375.7 481.6L375.4 479.8" stroke-width="1.0"/>
<path d="M363.4 485.8L365.8 485.8L366.1 488.8L364.0 488.2" stroke-width="1.0"/>
<path d="M364.6 484.6L367.0 485.8" stroke-width="1.0"/>
<path d="M377.8 478.6L379.0 476.8L379.3 472.6L380.8 471.4L383.2 471.7L384.4 473.2L388.6 473.2L391.0 473.8L392.8 475.9L395.8 476.8L397.0 478.6L399.4 475.6L401.8 476.8L404.2 477.1L406.6 478.6L409.0 477.4L412.6 477.1L415.0 478.0" stroke-width="1.0"/>
<path d="M379.3 472.6L380.8 471.4L383.2 471.7L383.2 473.8L381.4 474.4L381.4 476.2" stroke-width="1.3"/>
<path d="M379.3 472.6L380.2 476.2L383.2 476.5L383.2 481.6L381.4 483.4L384.4 487.0L384.4 491.2L386.2 492.4L386.5 496.0L383.2 500.2L380.8 503.2L379.0 506.2L376.0 506.8L371.2 507.4L367.0 504.4" stroke-width="1.0"/>
<path d="M375.7 481.6L380.8 481.9L381.4 483.4" stroke-width="1.0"/>
<path d="M376.0 479.8L380.2 480.7" stroke-width="1.0"/>
<path d="M375.4 487.0L379.6 487.3L380.8 488.5L384.4 488.5" stroke-width="1.0"/>
<path d="M386.2 492.4L389.8 488.8L391.0 485.8L387.4 481.6L387.4 478.0L388.6 473.2" stroke-width="1.0"/>
<path d="M391.0 485.8L392.2 485.2L395.8 485.2L396.4 481.6L397.0 478.6" stroke-width="1.0"/>
<path d="M391.6 476.2L391.6 485.2" stroke-width="1.0"/>
<path d="M394.0 476.8L394.0 485.2" stroke-width="1.0"/>
<path d="M395.8 485.2L400.6 489.4L401.2 495.4L403.0 499.6L404.8 501.4" stroke-width="1.0"/>
<path d="M383.2 500.2L386.8 504.4L388.6 508.0L393.4 511.6L397.0 512.2L401.8 513.4" stroke-width="1.0"/>
<path d="M373.0 489.1L371.8 493.6L373.0 496.0L373.6 500.2L376.0 504.4L376.0 506.8" stroke-width="1.0"/>
<path d="M367.0 492.4L371.8 493.6" stroke-width="1.0"/>
<path d="M364.0 491.8L367.0 492.4L367.6 488.2" stroke-width="1.0"/>
<path d="M364.0 501.4L373.6 500.2" stroke-width="1.0"/>
<path d="M367.0 504.4L376.0 511.6L377.8 510.4L377.5 506.8" stroke-width="1.0"/>
<path d="M364.0 508.0L361.6 512.2" stroke-width="1.0"/>
<path d="M368.2 487.0L367.0 490.0L364.0 489.4" stroke-width="1.0"/>
<path d="M376.0 511.6L375.4 514.0" stroke-width="1.0"/>
<path d="M359.2 496.0L362.8 500.8" stroke-width="1.0"/>
<path d="M406.6 478.6L407.2 484.0L406.0 486.4L403.0 488.2L400.6 489.4" stroke-width="1.0"/>
<path d="M412.6 477.4L413.2 484.0L407.2 484.6" stroke-width="1.0"/>
<path d="M397.7 477.2L399.5 476.6L400.1 478.4L398.3 479.3Z" fill="#000" stroke-width="0.8"/>
<path d="M418.1 470.9L419.9 470.6L420.2 473.0L418.4 473.6Z" fill="#000" stroke-width="0.8"/>
<path d="M395.0 476.6L398.0 476.0L399.2 478.4L401.0 475.4L404.0 476.6L406.4 478.4L408.8 476.6L411.8 476.6L413.6 477.8L416.0 476.6L417.2 474.2L419.0 470.6L420.2 473.6L420.2 476.0L423.2 477.8L424.4 480.2L426.8 480.8L429.2 479.6L431.6 481.4L433.4 480.2L434.0 476.6L435.8 476.0L438.2 478.4L441.2 478.4L444.8 476.6L446.6 473.6L447.8 470.0L450.2 465.8L453.8 464.6L455.0 465.2" stroke-width="1.0"/>
<path d="M420.2 476.0L423.2 477.8L424.4 480.2" stroke-width="1.3"/>
<path d="M434.0 476.6L435.8 476.0L438.2 478.4" stroke-width="1.3"/>
<path d="M407.6 478.4L407.0 485.0L405.8 487.4L401.0 489.2L401.6 494.0L402.8 499.4L404.6 501.2L407.0 501.2L409.4 504.2L412.4 504.2L413.0 502.4L416.0 501.2L416.6 504.8" stroke-width="1.0"/>
<path d="M401.0 489.2L401.6 494.0L402.8 499.4L404.6 501.2" stroke-width="1.3"/>
<path d="M407.0 485.0L413.6 484.4L418.4 484.4" stroke-width="1.0"/>
<path d="M413.6 477.8L413.6 484.4" stroke-width="1.0"/>
<path d="M418.4 476.6L418.4 500.0L416.0 501.2" stroke-width="1.0"/>
<path d="M418.4 490.4L420.8 490.4L425.6 485.0L425.6 480.8" stroke-width="1.0"/>
<path d="M420.8 490.4L425.6 494.0L428.6 492.2L433.4 486.2L431.0 482.0" stroke-width="1.0"/>
<path d="M425.6 494.0L426.2 499.4L425.6 503.6" stroke-width="1.0"/>
<path d="M433.4 486.2L432.2 490.4L436.4 491.6L440.6 495.2L443.0 497.6L446.6 495.2L451.4 495.2L453.8 494.0" stroke-width="1.0"/>
<path d="M444.8 476.6L444.8 486.8L443.0 490.4L440.6 495.2" stroke-width="1.0"/>
<path d="M453.8 465.2L453.5 506.0" stroke-width="1.0"/>
<path d="M444.8 478.4L453.8 478.4" stroke-width="1.0"/>
<path d="M446.6 497.6L447.8 503.6" stroke-width="1.0"/>
<path d="M426.2 499.4L431.0 502.4L431.6 506.0" stroke-width="1.0"/>
<path d="M404.6 501.2L404.6 504.8L407.0 505.4" stroke-width="1.0"/>
<path d="M409.4 504.2L410.0 506.0" stroke-width="1.0"/>
<path d="M413.0 502.4L415.4 505.4" stroke-width="1.0"/>
<path d="M439.5 443.0L441.5 442.0L443.5 442.0L445.5 444.0L445.0 447.5L441.0 447.5L439.5 445.5Z" fill="#000" stroke-width="0.8"/>
<path d="M459.0 446.0L462.2 444.5L463.5 447.0L463.5 449.0L461.0 450.5L458.5 450.0Z" fill="#000" stroke-width="0.8"/>
<path d="M449.5 456.0L452.0 456.5L455.0 457.0L452.0 460.0L450.0 458.5Z" fill="#000" stroke-width="0.8"/>
<path d="M438.0 432.5L440.0 431.0L440.5 428.2L444.8 428.2L445.2 430.5L446.8 432.5L447.5 434.5L447.5 440.5" stroke-width="2.0"/>
<path d="M438.0 432.5L439.0 433.5L441.0 434.0L443.5 434.5L444.5 436.5L444.5 439.0L443.5 441.0L441.5 442.0" stroke-width="1.3"/>
<path d="M447.5 440.5L449.5 442.0L451.0 440.0L453.5 437.5L455.0 438.5L457.0 438.5L458.5 441.0L461.0 439.5L462.0 442.0L462.2 444.5" stroke-width="1.3"/>
<path d="M461.0 450.5L458.5 451.5L457.5 454.0L455.0 457.0" stroke-width="1.3"/>
<path d="M449.5 458.0L448.0 454.5L447.5 450.0L447.0 447.0L445.0 447.5" stroke-width="1.3"/>
<path d="M453.5 437.5L453.5 457.0" stroke-width="1.0"/>
<path d="M447.5 440.5L447.5 450.0" stroke-width="1.0"/>
<path d="M447.5 444.5L453.5 444.5L458.5 444.5L462.2 444.5" stroke-width="1.0"/>
<path d="M447.5 450.0L453.5 450.0L457.5 452.0" stroke-width="1.0"/>
<path d="M451.0 440.0L452.0 444.0" stroke-width="1.0"/>
<path d="M457.0 438.5L456.5 444.0" stroke-width="1.0"/>
<path d="M458.5 441.0L459.0 446.0" stroke-width="1.0"/>
<path d="M447.5 434.5L444.5 435.0" stroke-width="1.0"/>
<path d="M444.5 439.0L447.5 439.0" stroke-width="1.0"/>
<path d="M444.8 428.2L444.0 430.5L445.2 430.5" stroke-width="1.0"/>
<path d="M441.2 431.0L442.8 431.0L442.8 434.0L441.2 434.0L441.2 431.0" stroke-width="1.3"/>
<path d="M444.5 436.5L447.5 436.5" stroke-width="1.0"/>
<path d="M447.5 447.0L453.5 448.0L458.5 447.0" stroke-width="1.0"/>
<path d="M448.0 454.5L453.5 454.0L457.5 454.0" stroke-width="1.0"/>
<path d="M455.0 438.5L455.0 444.5" stroke-width="1.0"/>
<path d="M502.8 454.3L505.0 452.0L508.0 452.9L511.0 452.0L513.3 452.8L515.5 452.0L517.0 449.4L518.5 452.8L517.0 455.0L514.0 456.5L511.8 458.0L505.0 458.4L502.8 456.5Z" fill="#000" stroke-width="0.8"/>
<path d="M505.9 451.9L510.1 451.9L510.1 452.9L505.9 452.9Z" fill="#fff" stroke="none"/>
<circle cx="503.7" cy="455.2" r="0.6" fill="#fff" stroke="none"/>
<circle cx="512.9" cy="455.2" r="0.6" fill="#fff" stroke="none"/>
<circle cx="515.1" cy="453.5" r="0.5" fill="#fff" stroke="none"/>
<path d="M486.6 421.3L490.8 421.3L490.8 425.0L488.9 425.8L488.1 423.1Z" fill="#000" stroke-width="0.8"/>
<path d="M481.4 422.8L484.8 423.1L486.6 421.3" stroke-width="1.3"/>
<path d="M488.9 425.8L489.6 429.5L491.9 431.0L493.8 430.3L494.5 431.8L492.6 433.3L493.0 435.5L491.1 436.6L491.9 442.3L489.6 443.0L489.6 447.5L487.0 448.3L486.3 444.5L483.3 443.8L481.8 441.5L480.3 440.0L480.6 437.8L482.1 435.1L483.3 432.5L483.3 429.9L481.4 428.0L481.4 422.8" stroke-width="1.3"/>
<path d="M484.8 423.1L484.8 427.3L488.9 425.8" stroke-width="1.0"/>
<path d="M483.3 429.9L487.8 429.5L489.6 429.5" stroke-width="1.0"/>
<path d="M487.8 429.5L484.0 435.5L482.1 435.1" stroke-width="1.0"/>
<path d="M484.0 435.5L489.3 431.0" stroke-width="1.0"/>
<path d="M487.0 435.5L491.9 436.6" stroke-width="1.0"/>
<path d="M485.5 438.5L485.5 443.8" stroke-width="1.0"/>
<path d="M488.1 437.8L488.1 448.3" stroke-width="1.0"/>
<path d="M481.8 441.5L485.5 440.8" stroke-width="1.0"/>
<path d="M487.0 438.5L491.1 440.8" stroke-width="1.0"/>
<path d="M481.4 425.8L484.8 425.8" stroke-width="1.0"/>
<path d="M482.9 423.1L483.3 429.9" stroke-width="1.0"/>
<path d="M489.6 433.3L491.5 433.3L491.5 434.8L489.6 434.8L489.6 433.3" stroke-width="1.3"/>
<path d="M485.5 431.8L485.5 435.5" stroke-width="1.0"/>
<path d="M480.3 440.0L483.3 442.3L486.3 441.5" stroke-width="1.3"/>
<path d="M487.0 448.3L481.8 448.3L481.0 449.8L484.0 451.3L487.0 452.0L486.3 455.0L489.3 456.5" stroke-width="2.0"/>
<path d="M489.3 456.5L493.0 453.5L495.3 452.8L496.8 450.5L496.8 453.5L499.0 454.3L502.8 454.3" stroke-width="1.3"/>
<path d="M502.8 456.5L498.3 456.5L497.5 459.5L494.5 458.8L496.0 462.5L493.8 464.0L490.8 462.5L489.3 459.5L487.0 458.0L484.8 455.8L484.8 452.8" stroke-width="2.0"/>
<path d="M487.0 452.0L491.5 458.0L494.5 458.8" stroke-width="1.3"/>
<path d="M489.3 456.5L490.8 462.5" stroke-width="1.3"/>
<path d="M493.0 453.5L497.5 459.5" stroke-width="1.3"/>
<path d="M486.3 448.3L486.3 455.0" stroke-width="1.3"/>
<path d="M495.3 452.8L498.3 456.5" stroke-width="1.3"/>
<path d="M488.1 448.3L488.1 452.0" stroke-width="1.0"/>
<path d="M475.0 463.3L478.0 463.3L478.0 470.0L476.5 470.0L474.3 465.5Z" fill="#000" stroke-width="0.8"/>
<circle cx="476.5" cy="465.5" r="0.5" fill="#fff" stroke="none"/>
<path d="M480.6 458.0L483.3 457.3L487.0 459.5L487.4 464.8L487.0 467.8L481.8 468.5L481.0 464.8L480.6 458.0" stroke-width="1.3"/>
<path d="M483.3 457.3L483.3 468.5" stroke-width="1.0"/>
<path d="M481.0 462.5L487.4 462.5" stroke-width="1.0"/>
<path d="M481.0 465.5L487.4 465.1L487.0 467.8L481.8 468.5Z" fill="#000" stroke-width="0.8"/>
<path d="M490.0 461.0L496.8 462.5L494.5 464.0L491.5 464.8Z" fill="#000" stroke-width="0.8"/>
<path d="M453.8 466.2L456.2 465.6L456.5 468.6L454.1 468.6Z" fill="#000" stroke-width="0.8"/>
<path d="M460.4 465.3L462.2 465.3L462.5 467.4L460.7 467.4Z" fill="#000" stroke-width="0.8"/>
<path d="M461.3 471.9L463.1 471.9L463.1 473.7L461.3 473.7Z" fill="#000" stroke-width="0.8"/>
<path d="M453.8 466.8L455.6 465.0L461.0 465.0L462.2 468.0L462.8 472.2L464.0 478.2" stroke-width="1.0"/>
<path d="M453.8 469.8L458.0 470.4L462.2 468.0" stroke-width="1.0"/>
<path d="M458.0 470.4L458.6 478.8" stroke-width="1.0"/>
<path d="M453.8 474.0L458.6 474.6L462.8 472.2" stroke-width="1.0"/>
<path d="M454.4 479.4L458.0 478.8L464.0 478.2L467.6 475.2L471.8 474.6L473.6 477.6L477.2 478.8L480.8 479.4L484.4 478.2L488.0 478.8L490.4 477.6L493.4 478.2L495.8 480.6L497.6 482.4L501.2 485.4L504.2 489.0L504.8 493.2L504.8 499.2L501.2 500.4L500.0 504.0L497.6 505.2L495.2 504.0L495.2 495.6L493.4 493.8L491.6 492.0L494.0 488.4L490.4 487.8L485.6 487.8L480.8 488.4L477.8 491.4L475.4 490.2L474.2 487.2L471.8 486.0L468.2 487.2L465.8 489.0L464.0 493.2L463.4 488.4L459.2 489.6L454.4 489.6L453.8 484.8" stroke-width="1.3"/>
<path d="M454.4 487.8L459.2 487.2L463.4 488.4L459.2 490.2L454.4 490.2Z" fill="#000" stroke-width="0.8"/>
<path d="M467.6 475.2L471.8 474.6L472.7 477.0L469.4 478.2L467.0 477.6Z" fill="#000" stroke-width="0.8"/>
<circle cx="469.7" cy="476.4" r="0.6" fill="#fff" stroke="none"/>
<path d="M475.4 487.8L478.4 487.2L480.2 489.0L477.8 491.7L475.4 490.5Z" fill="#000" stroke-width="0.8"/>
<circle cx="477.5" cy="489.6" r="0.55" fill="#fff" stroke="none"/>
<path d="M491.6 492.0L494.0 488.4L496.4 490.2L495.2 493.8L493.4 493.8Z" fill="#000" stroke-width="0.8"/>
<path d="M455.6 479.4L455.6 489.6" stroke-width="1.3"/>
<path d="M459.2 478.8L455.6 486.0L459.2 488.4" stroke-width="1.3"/>
<path d="M459.2 478.8L462.8 486.0L463.4 488.4" stroke-width="1.3"/>
<path d="M464.0 478.2L464.6 488.4" stroke-width="1.3"/>
<path d="M465.8 480.0L470.0 481.2L471.8 486.0" stroke-width="1.3"/>
<path d="M465.8 480.0L465.8 489.0" stroke-width="1.3"/>
<path d="M470.0 481.2L473.6 477.6" stroke-width="1.3"/>
<path d="M468.2 482.4L468.2 487.2" stroke-width="1.3"/>
<path d="M473.0 482.4L477.2 481.8L480.8 484.8L485.6 487.8" stroke-width="1.3"/>
<path d="M477.2 478.8L477.2 481.8" stroke-width="1.3"/>
<path d="M473.0 482.4L474.2 487.2" stroke-width="1.3"/>
<path d="M480.8 479.4L480.8 488.4" stroke-width="1.3"/>
<path d="M484.4 478.2L484.4 487.8" stroke-width="1.3"/>
<path d="M488.0 478.8L488.0 487.8" stroke-width="1.3"/>
<path d="M490.4 477.6L491.0 487.8" stroke-width="1.3"/>
<path d="M493.4 478.2L493.4 488.4" stroke-width="1.3"/>
<path d="M480.8 482.4L493.4 483.0" stroke-width="1.3"/>
<path d="M483.2 480.0L483.2 486.0" stroke-width="1.3"/>
<path d="M486.2 480.0L486.2 486.0" stroke-width="1.3"/>
<path d="M478.4 484.8L478.4 487.2" stroke-width="1.3"/>
<path d="M495.8 480.6L494.0 488.4" stroke-width="1.3"/>
<path d="M497.6 482.4L496.4 490.2" stroke-width="1.3"/>
<path d="M496.4 490.2L501.2 492.0L504.2 489.0" stroke-width="1.0"/>
<path d="M501.2 485.4L498.8 490.8" stroke-width="1.0"/>
<path d="M495.2 495.6L497.6 494.4L501.2 492.0" stroke-width="1.0"/>
<path d="M497.6 494.4L498.2 505.2" stroke-width="1.0"/>
<path d="M501.2 492.0L501.8 500.4" stroke-width="1.0"/>
<path d="M495.2 498.0L501.8 496.8" stroke-width="1.0"/>
<path d="M495.2 501.6L500.0 501.0" stroke-width="1.0"/>
<path d="M502.4 492.0L504.2 492.0L504.2 495.0L502.4 495.0L502.4 492.0" stroke-width="1.3"/>
<path d="M502.4 496.8L504.8 496.8" stroke-width="1.0"/>
<path d="M453.8 502.8L457.4 502.8L454.4 508.8L452.0 509.4L452.0 506.4Z" fill="#000" stroke-width="0.8"/>
<path d="M460.4 504.0L462.2 505.2L462.8 507.6L465.8 507.6L465.8 510.0L461.0 510.0Z" fill="#000" stroke-width="0.8"/>
<path d="M452.0 498.6L453.8 499.2L456.8 500.4L455.6 504.0" stroke-width="1.0"/>
<path d="M456.8 500.4L459.8 503.4L460.4 504.0" stroke-width="1.0"/>
<path d="M405.6 504.0L410.5 504.0L410.8 507.5L407.0 508.2L405.6 506.8Z" fill="#000" stroke-width="0.8"/>
<circle cx="407.3" cy="505.0" r="0.55" fill="#fff" stroke="none"/>
<circle cx="407.3" cy="507.1" r="0.55" fill="#fff" stroke="none"/>
<path d="M417.5 511.0L421.7 511.7L422.4 515.2L418.9 514.5Z" fill="#000" stroke-width="0.8"/>
<circle cx="420.6" cy="512.3" r="0.55" fill="#fff" stroke="none"/>
<path d="M425.9 518.0L428.7 518.0L429.4 520.8L431.5 520.8L433.6 519.4L436.4 520.1L436.4 522.2L430.8 522.9L428.0 520.8Z" fill="#000" stroke-width="0.8"/>
<path d="M432.9 518.7L435.0 518.7L435.0 519.7L432.9 519.7Z" fill="#fff" stroke="none"/>
<path d="M438.1 519.4L440.6 518.0L443.4 518.7L445.5 517.3L447.6 517.3L443.4 520.8L438.5 520.8Z" fill="#000" stroke-width="0.8"/>
<circle cx="439.5" cy="520.4" r="0.55" fill="#fff" stroke="none"/>
<circle cx="441.4" cy="518.3" r="0.55" fill="#fff" stroke="none"/>
<path d="M449.0 507.5L451.8 509.6L453.2 508.9L451.8 512.4L449.0 514.5Z" fill="#000" stroke-width="0.8"/>
<circle cx="451.4" cy="510.6" r="0.6" fill="#fff" stroke="none"/>
<path d="M453.2 504.0L457.4 502.6L456.0 506.1L453.9 508.2Z" fill="#000" stroke-width="0.8"/>
<circle cx="455.6" cy="503.4" r="0.5" fill="#fff" stroke="none"/>
<path d="M460.9 506.8L465.8 507.5L465.8 511.0L462.3 511.0Z" fill="#000" stroke-width="0.8"/>
<circle cx="462.4" cy="509.2" r="0.6" fill="#fff" stroke="none"/>
<path d="M460.2 504.0L462.3 504.7L461.6 506.8Z" fill="#000" stroke-width="0.8"/>
<path d="M401.4 490.0L402.1 498.4L404.9 500.5L405.6 504.0" stroke-width="1.0"/>
<path d="M410.5 504.0L412.6 506.8L416.1 510.3L418.2 513.1" stroke-width="1.0"/>
<path d="M422.4 515.2L425.9 518.0" stroke-width="1.0"/>
<path d="M412.6 506.8L414.0 502.6L416.8 501.9L416.1 510.3" stroke-width="1.0"/>
<path d="M416.8 508.2L423.8 502.6L426.6 499.8" stroke-width="1.0"/>
<path d="M418.2 490.0L418.9 501.9L416.8 508.2" stroke-width="1.0"/>
<path d="M423.1 516.6L430.1 508.9L432.2 507.5L430.8 502.6" stroke-width="1.0"/>
<path d="M430.8 508.9L430.1 520.8" stroke-width="1.0"/>
<path d="M432.2 507.5L436.4 509.6L439.2 511.0L442.7 511.0L445.5 513.8L447.6 517.3" stroke-width="1.0"/>
<path d="M437.8 511.0L437.1 515.2L436.4 520.1" stroke-width="1.0"/>
<path d="M439.9 511.7L439.9 518.0" stroke-width="1.0"/>
<path d="M442.0 513.1L444.8 515.2L443.4 518.7" stroke-width="1.0"/>
<path d="M441.3 514.5L442.0 518.0" stroke-width="1.0"/>
<path d="M424.5 506.8L421.0 510.3L421.7 511.7" stroke-width="1.0"/>
<path d="M453.9 490.0L453.9 508.2" stroke-width="1.0"/>
<path d="M448.3 505.4L449.0 507.5" stroke-width="1.0"/>
<path d="M447.6 517.3L449.0 514.5" stroke-width="1.0"/>
<path d="M457.4 502.6L459.5 503.3L461.6 506.1" stroke-width="1.0"/>
<path d="M600.7 412.1L603.4 412.1L606.9 413.0L606.0 416.9L603.4 415.2Z" fill="#000" stroke-width="0.8"/>
<path d="M601.2 409.1L600.7 412.1" stroke-width="1.3"/>
<path d="M627.4 430.9L634.0 431.4L635.7 434.0L627.9 434.0Z" fill="#000" stroke-width="0.8"/>
<path d="M606.0 449.7L609.5 448.0L612.1 453.2L615.6 452.4L618.2 453.2L620.9 448.9L625.2 448.0L627.0 448.9L629.6 452.4L629.6 455.9L626.1 455.9L620.9 455.0L615.6 455.9L612.1 454.6L608.6 455.0L606.0 453.2Z" fill="#000" stroke-width="0.8"/>
<path d="M612.6 447.1L613.9 447.1L613.9 452.4L612.6 452.4Z" fill="#fff" stroke="none"/>
<path d="M616.1 448.9L617.4 448.9L617.4 453.2L616.1 453.2Z" fill="#fff" stroke="none"/>
<path d="M627.0 451.5L628.7 451.5L628.7 454.1L627.0 454.1Z" fill="#fff" stroke="none"/>
<circle cx="625.2" cy="449.9" r="0.55" fill="#fff" stroke="none"/>
<circle cx="608.2" cy="452.4" r="0.5" fill="#fff" stroke="none"/>
<path d="M619.1 402.5L622.2 400.3L625.2 402.5L623.5 406.9L620.0 408.2L618.2 405.1Z" fill="#000" stroke-width="0.8"/>
<path d="M615.2 402.5L619.1 402.1L622.2 400.3L622.2 397.2L626.6 397.2L626.6 400.7L625.2 403.4" stroke-width="1.3"/>
<path d="M615.2 402.5L617.4 406.0L620.0 408.2" stroke-width="1.0"/>
<circle cx="623.5" cy="398.6" r="0.55" fill="#fff" stroke="none"/>
<circle cx="625.4" cy="398.6" r="0.55" fill="#fff" stroke="none"/>
<circle cx="624.4" cy="400.7" r="0.55" fill="#fff" stroke="none"/>
<path d="M622.2 397.2L626.6 397.2L626.6 400.7L622.2 400.7Z" fill="#000" stroke-width="0.8"/>
<circle cx="623.5" cy="398.6" r="0.6" fill="#fff" stroke="none"/>
<circle cx="625.4" cy="398.6" r="0.6" fill="#fff" stroke="none"/>
<circle cx="624.4" cy="400.6" r="0.5" fill="#fff" stroke="none"/>
<path d="M603.4 415.2L606.0 416.9L606.0 413.0L609.5 411.7L616.5 411.7L618.2 409.9L620.0 410.4L621.3 413.9L623.1 416.5L623.9 418.7L628.7 417.8L632.2 417.8L634.9 420.0L635.7 422.2L633.1 423.9L632.7 426.6L627.9 427.4L627.4 430.9" stroke-width="1.0"/>
<path d="M632.2 417.8L634.9 420.0L635.7 422.2L633.1 423.9" stroke-width="1.3"/>
<path d="M627.4 433.1L627.4 441.0L626.1 445.4L627.0 448.9" stroke-width="1.0"/>
<path d="M597.2 459.4L601.6 456.7L602.9 453.2L602.9 448.9L603.4 443.6L600.7 440.6L602.9 437.5L602.5 434.0L601.6 428.7L603.8 425.2L605.6 422.6L605.6 418.2L603.4 415.2" stroke-width="1.0"/>
<path d="M602.9 437.5L600.7 440.6L603.4 443.6" stroke-width="1.3"/>
<path d="M601.6 428.7L602.5 434.0" stroke-width="1.3"/>
<path d="M606.0 456.7L603.4 458.5L600.7 461.1L597.2 462.0" stroke-width="1.0"/>
<path d="M606.0 420.0L611.2 420.0L611.2 412.1" stroke-width="1.0"/>
<path d="M611.2 420.0L618.2 418.2L623.1 416.5" stroke-width="1.0"/>
<path d="M618.2 409.9L617.4 413.9L618.2 418.2" stroke-width="1.0"/>
<path d="M615.2 421.7L618.2 418.2" stroke-width="1.0"/>
<path d="M615.2 421.7L613.9 427.0L613.0 432.2" stroke-width="1.0"/>
<path d="M605.6 422.6L615.2 421.7" stroke-width="1.0"/>
<path d="M603.8 425.2L607.7 423.5L610.8 429.6L613.0 432.2" stroke-width="1.0"/>
<path d="M601.6 428.7L613.0 432.2" stroke-width="1.0"/>
<path d="M602.5 434.0L613.0 432.2" stroke-width="1.0"/>
<path d="M602.9 437.5L613.0 434.9L613.0 432.2" stroke-width="1.0"/>
<path d="M613.0 432.2L617.4 430.5L621.7 427.9L624.4 426.1L623.5 422.6L623.9 418.7" stroke-width="1.0"/>
<path d="M621.7 427.9L627.4 430.9" stroke-width="1.0"/>
<path d="M626.6 419.1L626.1 426.1" stroke-width="1.0"/>
<path d="M629.6 417.8L629.6 422.6L627.9 427.4" stroke-width="1.0"/>
<path d="M613.0 432.2L613.9 439.2L617.4 444.5L621.7 442.7L627.4 441.0" stroke-width="1.0"/>
<path d="M613.0 432.2L620.9 430.5L627.0 437.5" stroke-width="1.0"/>
<path d="M600.7 440.6L613.0 439.2L613.9 439.2" stroke-width="1.0"/>
<path d="M613.0 439.2L612.1 444.5L609.5 448.0" stroke-width="1.0"/>
<path d="M613.9 439.2L615.2 446.2L615.6 452.4" stroke-width="1.0"/>
<path d="M613.9 441.0L620.0 448.0L620.9 448.9" stroke-width="1.0"/>
<path d="M603.4 448.9L606.0 449.7" stroke-width="1.0"/>
<path d="M602.9 453.2L606.0 453.2" stroke-width="1.0"/>
<path d="M602.9 453.2L606.4 452.8L606.0 456.3L603.4 458.1Z" fill="#000" stroke-width="0.8"/>
<circle cx="604.2" cy="455.0" r="0.5" fill="#fff" stroke="none"/>
<path d="M597.2 459.4L597.2 462.0" stroke-width="1.0"/>
<path d="M599.4 458.1L600.7 461.1" stroke-width="1.0"/>
<path d="M654.3 380.7L661.7 380.7L661.3 383.7L658.7 383.7L658.7 387.7L654.3 387.7Z" fill="#000" stroke-width="0.8"/>
<path d="M656.1 382.0L657.8 382.0L657.8 384.6L656.1 384.6Z" fill="#fff" stroke="none"/>
<circle cx="659.6" cy="382.2" r="0.5" fill="#fff" stroke="none"/>
<path d="M647.3 408.2L655.2 408.7L655.6 412.6L651.2 413.9L647.3 413.5L646.4 410.0Z" fill="#000" stroke-width="0.8"/>
<path d="M648.2 409.6L650.4 409.6L650.4 412.2L648.2 412.2Z" fill="#fff" stroke="none"/>
<circle cx="652.6" cy="410.2" r="0.6" fill="#fff" stroke="none"/>
<path d="M640.3 399.5L646.9 399.5L648.2 403.9L649.1 407.8" stroke-width="1.3"/>
<path d="M647.3 408.2L644.7 405.6L640.7 402.1L640.3 399.5" stroke-width="1.3"/>
<path d="M642.1 401.2L646.9 401.2" stroke-width="1.0"/>
<path d="M643.8 403.0L647.7 403.0" stroke-width="1.0"/>
<path d="M642.5 401.2L646.9 405.6" stroke-width="1.0"/>
<path d="M655.2 404.7L656.9 400.4L658.7 403.0L660.9 403.4L658.7 404.7L657.4 407.4L656.5 405.2Z" fill="#000" stroke-width="0.8"/>
<path d="M688.0 413.5L694.1 411.3L694.6 413.1L690.6 416.1L687.6 419.6L686.2 416.1Z" fill="#000" stroke-width="0.8"/>
<path d="M666.1 419.6L670.5 418.7L674.0 420.5L677.5 419.6L682.7 418.7L687.6 419.6L687.6 422.2L682.7 422.7L679.2 424.0L674.9 426.2L674.0 424.0L670.5 423.1L667.0 424.0L661.7 424.9L662.6 422.2Z" fill="#000" stroke-width="0.8"/>
<path d="M672.2 420.7L674.0 420.7L674.0 421.8L672.2 421.8Z" fill="#fff" stroke="none"/>
<circle cx="677.5" cy="421.4" r="0.5" fill="#fff" stroke="none"/>
<circle cx="684.5" cy="420.7" r="0.5" fill="#fff" stroke="none"/>
<path d="M653.9 418.7L657.4 420.5L659.1 422.2L653.9 422.2Z" fill="#000" stroke-width="0.8"/>
<path d="M627.6 431.9L633.7 431.0L634.6 435.4L627.6 434.5Z" fill="#000" stroke-width="0.8"/>
<path d="M647.7 431.0L651.2 432.7L655.6 430.1L660.4 429.2L660.4 432.7L656.5 435.4L651.2 436.2L647.7 434.5Z" fill="#000" stroke-width="0.8"/>
<circle cx="653.0" cy="432.7" r="0.5" fill="#fff" stroke="none"/>
<path d="M640.7 435.4L645.1 432.7L645.1 436.2L640.7 439.7L638.1 437.1Z" fill="#000" stroke-width="0.8"/>
<path d="M653.9 418.7L657.4 416.1L658.2 413.5L667.9 413.5L667.9 417.0L666.1 419.6" stroke-width="1.3"/>
<path d="M658.2 413.5L667.9 413.5" stroke-width="2.0"/>
<path d="M670.5 418.7L672.7 415.2L676.6 413.5L680.1 414.4L682.7 416.1L685.4 417.0L688.0 413.5" stroke-width="1.0"/>
<path d="M661.7 424.9L660.4 427.5L660.4 429.2" stroke-width="1.3"/>
<path d="M627.6 431.9L633.7 431.0L636.4 428.4L642.5 427.5L644.2 429.2L647.7 426.6L653.9 425.7L658.2 424.9L659.1 422.2" stroke-width="1.0"/>
<path d="M638.1 437.1L633.7 435.4" stroke-width="1.0"/>
<path d="M660.0 416.1L663.5 415.2L666.1 419.6" stroke-width="1.0"/>
<path d="M660.0 416.1L660.9 420.5L663.5 422.2" stroke-width="1.0"/>
<path d="M663.5 415.2L664.4 418.7" stroke-width="1.0"/>
<path d="M657.4 416.1L660.0 416.1" stroke-width="1.0"/>
<path d="M672.7 415.2L671.4 418.7" stroke-width="1.0"/>
<path d="M676.6 413.5L674.9 417.0L672.7 418.7" stroke-width="1.0"/>
<path d="M680.1 414.4L681.0 417.9L685.4 417.0" stroke-width="1.0"/>
<path d="M682.7 416.1L686.2 418.7" stroke-width="1.0"/>
<path d="M677.5 414.4L678.4 419.2" stroke-width="1.0"/>
<path d="M636.4 428.4L636.4 435.4" stroke-width="1.0"/>
<path d="M639.0 428.4L639.9 431.9L637.2 434.5L639.9 438.0" stroke-width="1.0"/>
<path d="M642.5 427.5L642.5 431.9L645.1 432.7" stroke-width="1.0"/>
<path d="M647.7 426.6L646.9 431.0L647.7 431.0" stroke-width="1.0"/>
<path d="M650.4 426.6L651.2 432.7" stroke-width="1.0"/>
<path d="M653.9 425.7L655.6 430.1" stroke-width="1.0"/>
<path d="M636.4 431.9L642.5 431.9" stroke-width="1.0"/>
<path d="M646.9 428.8L653.9 428.4" stroke-width="1.0"/>
<path d="M625.0 418.7L629.4 417.4L633.7 418.7L636.4 420.5L635.5 424.0L632.0 425.7L628.5 426.6L625.0 427.5" stroke-width="1.0"/>
<path d="M629.4 417.4L629.4 425.7" stroke-width="1.0"/>
<path d="M631.6 418.7L632.0 425.7" stroke-width="1.0"/>
<path d="M633.7 418.7L636.4 420.5L635.5 424.0" stroke-width="1.3"/>
<path d="M625.0 427.5L627.6 431.9" stroke-width="1.0"/>
<path d="M580.6 408.0L583.6 405.0L584.8 406.4L582.4 410.4Z" fill="#000" stroke-width="0.8"/>
<circle cx="582.9" cy="407.6" r="0.5" fill="#fff" stroke="none"/>
<path d="M591.5 463.0L599.0 459.8L603.0 456.5L607.0 455.2L611.0 453.5L615.0 454.0L609.0 457.2L602.0 462.0L595.0 465.5L591.5 466.0Z" fill="#000" stroke-width="0.8"/>
<circle cx="600.0" cy="460.5" r="0.5" fill="#fff" stroke="none"/>
<circle cx="605.0" cy="457.0" r="0.5" fill="#fff" stroke="none"/>
<path d="M591.5 460.0L599.0 458.0L603.0 454.0L607.0 454.0" stroke-width="1.0"/>
<path d="M595.0 459.0L595.5 464.0" stroke-width="1.0"/>
<path d="M599.0 458.0L599.0 460.0" stroke-width="1.0"/>
<path d="M602.0 448.0L603.0 454.0" stroke-width="1.0"/>
<path d="M607.0 448.0L607.0 454.0" stroke-width="1.0"/>
<path d="M611.0 448.0L612.0 453.0" stroke-width="1.0"/>
<path d="M602.0 451.0L607.0 451.0" stroke-width="1.0"/>
<path d="M599.0 458.0L602.0 454.0L602.0 448.0" stroke-width="1.3"/>
<path d="M573.5 465.5L577.5 464.5L579.0 462.0L581.5 461.5L584.0 465.0L586.0 467.0" stroke-width="1.3"/>
<path d="M586.0 467.0L586.5 461.0L589.5 456.5L591.5 460.0" stroke-width="1.3"/>
<path d="M573.5 465.5L573.5 467.0L576.5 468.5L578.5 469.5L579.5 473.0" stroke-width="1.3"/>
<path d="M580.0 469.5L586.0 467.0" stroke-width="1.0"/>
<path d="M577.5 464.5L578.5 469.5" stroke-width="1.0"/>
<path d="M575.0 465.5L575.0 468.0" stroke-width="1.0"/>
<path d="M591.5 466.0L590.5 469.0L591.5 472.0L590.0 473.0L590.5 477.0L590.5 482.0L588.5 482.5L588.5 488.0L589.5 492.0L592.5 494.5" stroke-width="1.3"/>
<path d="M579.5 473.0L580.0 477.0L581.5 480.5L585.0 481.5L587.0 481.5" stroke-width="1.0"/>
<path d="M579.5 473.0L578.5 478.0L576.5 483.0L574.0 485.0L574.0 495.0L572.5 499.0" stroke-width="1.0"/>
<path d="M586.0 467.0L587.0 494.0" stroke-width="1.3"/>
<path d="M586.5 471.0L590.5 471.0" stroke-width="1.0"/>
<path d="M586.5 474.0L590.2 474.0" stroke-width="1.0"/>
<path d="M586.5 477.0L590.5 477.0" stroke-width="1.0"/>
<path d="M586.8 482.0L589.0 482.0" stroke-width="1.0"/>
<path d="M586.8 485.0L588.5 485.0" stroke-width="1.0"/>
<path d="M586.8 488.0L588.5 488.0" stroke-width="1.0"/>
<path d="M587.0 491.0L589.5 491.0" stroke-width="1.0"/>
<path d="M574.0 485.0L577.5 485.0" stroke-width="1.0"/>
<path d="M574.0 490.0L577.5 490.0L579.0 492.0L580.0 495.0" stroke-width="1.0"/>
<path d="M576.5 483.0L577.5 490.0" stroke-width="1.0"/>
<path d="M574.0 495.0L579.0 495.0" stroke-width="1.0"/>
<path d="M576.5 483.0L578.5 478.0" stroke-width="1.3"/>
<path d="M580.0 495.0L585.0 494.0L589.5 494.0L592.5 494.5L594.5 497.5L592.0 500.0L590.0 502.5L588.0 501.5L588.0 498.0L582.0 498.5L580.0 502.0L579.0 498.0Z" fill="#000" stroke-width="0.8"/>
<circle cx="582.5" cy="496.5" r="0.55" fill="#fff" stroke="none"/>
<circle cx="586.5" cy="496.0" r="0.55" fill="#fff" stroke="none"/>
<circle cx="589.5" cy="498.0" r="0.55" fill="#fff" stroke="none"/>
<circle cx="592.0" cy="497.5" r="0.55" fill="#fff" stroke="none"/>
<circle cx="587.0" cy="499.5" r="0.5" fill="#fff" stroke="none"/>
<path d="M570.5 503.0L572.5 499.0L576.5 500.0L578.0 503.5L576.5 505.5L574.5 508.0L570.5 506.0Z" fill="#000" stroke-width="0.8"/>
<circle cx="572.0" cy="502.5" r="0.55" fill="#fff" stroke="none"/>
<circle cx="574.0" cy="504.5" r="0.55" fill="#fff" stroke="none"/>
<circle cx="572.0" cy="505.5" r="0.5" fill="#fff" stroke="none"/>
<circle cx="575.0" cy="502.0" r="0.5" fill="#fff" stroke="none"/>
<path d="M576.5 500.0L579.0 498.0" stroke-width="1.0"/>
<path d="M578.0 503.5L580.0 502.0" stroke-width="1.0"/>
<path d="M577.5 496.0L577.5 502.5" stroke-width="1.0"/>
<path d="M564.5 514.0L566.5 511.0L568.0 513.0L571.0 513.5L568.5 514.5L568.0 519.0L566.0 521.5L564.0 522.0Z" fill="#000" stroke-width="0.8"/>
<circle cx="567.0" cy="514.2" r="0.5" fill="#fff" stroke="none"/>
<circle cx="566.3" cy="517.2" r="0.55" fill="#fff" stroke="none"/>
<path d="M559.7 531.5L562.7 530.7L564.2 534.5L561.2 535.7Z" fill="#000" stroke-width="0.8"/>
<circle cx="562.0" cy="533.0" r="0.5" fill="#fff" stroke="none"/>
<path d="M558.2 538.2L562.7 538.2L561.2 543.5L559.3 542.0Z" fill="#000" stroke-width="0.8"/>
<circle cx="560.5" cy="539.7" r="0.5" fill="#fff" stroke="none"/>
<path d="M529.2 552.4L532.8 552.0L536.0 549.2L539.2 548.0L539.2 551.2L536.0 552.0L535.2 554.0L532.8 555.6L529.2 555.6Z" fill="#000" stroke-width="0.8"/>
<circle cx="535.6" cy="550.8" r="0.55" fill="#fff" stroke="none"/>
<path d="M538.4 555.2L541.6 555.2L543.2 556.0L547.6 555.2L547.6 559.2L544.0 559.6L538.4 558.4Z" fill="#000" stroke-width="0.8"/>
<path d="M539.2 546.4L541.6 545.2L549.6 545.2L549.6 547.2L539.2 548.0Z" fill="#000" stroke-width="0.8"/>
<path d="M542.8 546.0L546.4 546.0L546.4 546.8L542.8 546.8Z" fill="#fff" stroke="none"/>
<path d="M545.6 546.8L549.6 546.8L549.6 549.6L547.6 552.0L545.6 552.0Z" fill="#000" stroke-width="0.8"/>
<path d="M546.2 548.0L547.0 548.0L547.0 550.8L546.2 550.8Z" fill="#fff" stroke="none"/>
<path d="M539.2 548.0L539.2 555.2" stroke-width="1.0"/>
<path d="M539.2 551.6L541.6 551.6L541.6 555.2" stroke-width="1.0"/>
<path d="M505.2 548.4L507.2 549.6L509.6 550.4L510.0 552.8L512.0 554.4L514.8 556.4L514.8 559.2L513.2 562.4L512.8 564.8L510.4 566.4L512.0 568.0L515.2 568.4L518.4 567.6L520.0 569.6L521.6 571.2L521.6 575.2L520.0 579.2L518.4 576.8L516.0 574.4L513.6 573.6L510.4 576.4L509.6 573.6L509.6 568.0L507.2 565.6L505.6 563.2L503.2 561.6L504.4 558.4L504.0 551.2L505.2 548.4" stroke-width="1.3"/>
<path d="M504.0 552.8L510.0 552.8" stroke-width="1.3"/>
<path d="M504.4 555.6L513.6 555.6" stroke-width="1.3"/>
<path d="M504.4 558.4L514.8 559.2" stroke-width="1.3"/>
<path d="M508.0 550.4L508.0 565.6" stroke-width="1.3"/>
<path d="M505.6 563.2L512.8 562.4" stroke-width="1.3"/>
<path d="M512.0 554.4L512.0 563.2" stroke-width="1.3"/>
<path d="M507.2 565.6L512.8 564.8" stroke-width="1.3"/>
<path d="M509.6 568.0L512.0 568.0" stroke-width="1.3"/>
<path d="M509.6 571.2L515.2 572.0L521.6 571.2" stroke-width="1.3"/>
<path d="M515.2 568.4L515.2 574.4" stroke-width="1.3"/>
<path d="M512.0 568.0L512.0 574.4" stroke-width="1.3"/>
<path d="M518.4 567.6L517.6 576.8" stroke-width="1.3"/>
<path d="M513.6 573.6L521.6 575.2" stroke-width="1.3"/>
<path d="M509.6 568.8L512.0 568.8L512.0 571.6L509.6 571.6Z" fill="#000" stroke-width="0.8"/>
<circle cx="510.8" cy="570.4" r="0.5" fill="#fff" stroke="none"/>
<path d="M509.6 572.0L515.2 572.0L513.6 573.6L510.4 576.4Z" fill="#000" stroke-width="0.8"/>
<circle cx="511.2" cy="572.4" r="0.5" fill="#fff" stroke="none"/>
<path d="M485.2 570.8L487.2 569.2L490.4 568.8L493.2 564.8L495.6 566.0L498.8 564.4L500.8 566.4L499.2 569.6L497.6 571.2L496.8 573.6L498.4 576.8L498.4 581.6L496.0 582.8L494.4 581.6L494.4 577.6L492.0 576.0L488.0 576.0L485.6 575.6Z" fill="#000" stroke-width="0.8"/>
<path d="M488.0 570.4L491.2 570.0L492.0 571.6L491.2 572.8L488.0 572.8Z" fill="#fff" stroke="none"/>
<path d="M492.8 566.8L494.8 566.8L494.8 570.0L492.8 570.8Z" fill="#fff" stroke="none"/>
<circle cx="496.6" cy="568.0" r="0.65" fill="#fff" stroke="none"/>
<circle cx="499.6" cy="566.8" r="0.6" fill="#fff" stroke="none"/>
<circle cx="494.6" cy="572.8" r="0.6" fill="#fff" stroke="none"/>
<circle cx="496.4" cy="577.0" r="0.6" fill="#fff" stroke="none"/>
<circle cx="496.4" cy="579.4" r="0.6" fill="#fff" stroke="none"/>
<path d="M455.1 577.8L458.2 576.7L461.4 578.3L461.9 583.0L459.3 584.6L458.2 582.0L455.1 582.5Z" fill="#000" stroke-width="0.8"/>
<circle cx="458.2" cy="579.6" r="0.55" fill="#fff" stroke="none"/>
<path d="M396.3 617.7L398.9 617.1L400.0 620.3L397.9 621.9L396.3 620.3Z" fill="#000" stroke-width="0.8"/>
<circle cx="398.0" cy="619.2" r="0.4" fill="#fff" stroke="none"/>
<path d="M410.5 595.6L414.7 592.5L417.3 594.0L421.5 594.6L423.6 598.2L420.4 599.3L418.3 602.4L416.8 599.8L413.6 597.7Z" fill="#000" stroke-width="0.8"/>
<circle cx="412.6" cy="595.6" r="0.5" fill="#fff" stroke="none"/>
<circle cx="416.2" cy="596.1" r="0.5" fill="#fff" stroke="none"/>
<circle cx="419.4" cy="597.2" r="0.5" fill="#fff" stroke="none"/>
<path d="M432.0 593.0L436.2 593.0L440.4 591.9L442.5 594.0L442.5 597.2L436.2 597.2L432.0 598.2Z" fill="#000" stroke-width="0.8"/>
<circle cx="435.1" cy="595.3" r="0.5" fill="#fff" stroke="none"/>
<circle cx="439.3" cy="594.6" r="0.5" fill="#fff" stroke="none"/>
<path d="M420.4 592.5L421.5 589.3L426.7 588.8L431.5 588.3L433.0 591.4L436.2 593.0" stroke-width="1.3"/>
<path d="M432.0 598.2L428.8 599.3L427.3 605.6L425.7 600.3L420.4 599.3" stroke-width="1.3"/>
<path d="M421.5 589.3L421.5 594.6" stroke-width="1.3"/>
<path d="M426.7 588.8L426.2 600.3" stroke-width="1.3"/>
<path d="M431.5 588.3L430.4 598.8" stroke-width="1.3"/>
<path d="M421.5 591.9L432.0 591.9" stroke-width="1.3"/>
<path d="M423.6 595.6L432.0 595.6" stroke-width="1.3"/>
<path d="M423.6 589.3L424.6 598.2" stroke-width="1.3"/>
<path d="M428.8 588.8L428.8 599.3" stroke-width="1.3"/>
<path d="M437.8 582.5L439.3 580.4L441.4 584.6L444.6 584.6L447.7 587.7L448.8 591.9L453.0 591.9L454.0 587.7L455.6 590.9L454.6 596.1L454.6 604.5L456.1 606.6L456.1 609.8L454.6 610.8L455.1 617.1L458.2 620.3L457.2 623.4L454.0 623.4L450.9 621.9L447.7 618.2L447.7 614.0L449.8 609.8L448.3 605.6L447.7 598.2L444.6 597.2L442.5 594.0L440.4 587.7L437.8 582.5" stroke-width="1.3"/>
<path d="M440.4 587.7L444.6 584.6" stroke-width="1.3"/>
<path d="M441.4 590.9L447.7 587.7" stroke-width="1.3"/>
<path d="M444.6 597.2L448.8 591.9" stroke-width="1.3"/>
<path d="M442.5 594.0L447.2 589.8" stroke-width="1.3"/>
<path d="M444.6 584.6L448.8 596.1" stroke-width="1.3"/>
<path d="M441.4 584.6L447.7 598.2" stroke-width="1.3"/>
<path d="M447.7 598.2L454.6 596.1" stroke-width="1.3"/>
<path d="M450.9 591.9L450.9 606.6" stroke-width="1.3"/>
<path d="M448.0 602.4L454.6 602.4" stroke-width="1.3"/>
<path d="M448.8 591.9L454.0 596.1" stroke-width="1.3"/>
<path d="M453.0 591.9L448.8 597.2" stroke-width="1.3"/>
<path d="M448.3 605.6L456.1 606.6" stroke-width="1.3"/>
<path d="M449.8 609.8L456.1 609.8" stroke-width="1.3"/>
<path d="M452.5 606.6L453.0 622.4" stroke-width="1.3"/>
<path d="M447.7 614.0L455.1 614.0" stroke-width="1.3"/>
<path d="M447.7 618.2L455.1 617.1" stroke-width="1.3"/>
<path d="M450.4 614.0L450.9 621.9" stroke-width="1.3"/>
<path d="M454.0 618.2L457.2 623.4" stroke-width="1.3"/>
<path d="M453.0 619.2L458.2 620.3L457.2 623.4L454.0 623.4Z" fill="#000" stroke-width="0.8"/>
<path d="M400.5 628.7L405.7 629.7L405.7 633.4L403.1 633.9Z" fill="#000" stroke-width="0.8"/>
<path d="M417.3 631.8L417.8 629.2L422.5 629.2L424.6 630.8L428.8 629.7L432.0 630.8L432.5 639.2L430.9 640.2L429.9 637.1L426.7 639.2L423.6 637.1L419.4 636.0L417.3 638.1L413.1 640.2L411.5 637.1L414.7 633.9Z" fill="#000" stroke-width="0.8"/>
<path d="M425.2 632.4L427.0 632.4L427.0 635.0L425.2 635.0Z" fill="#fff" stroke="none"/>
<path d="M429.1 631.8L430.7 631.8L430.7 634.5L429.1 634.5Z" fill="#fff" stroke="none"/>
<circle cx="421.0" cy="632.9" r="0.6" fill="#fff" stroke="none"/>
<circle cx="415.7" cy="636.0" r="0.55" fill="#fff" stroke="none"/>
<circle cx="430.4" cy="636.6" r="0.5" fill="#fff" stroke="none"/>
<circle cx="421.5" cy="635.0" r="0.4" fill="#fff" stroke="none"/>
<path d="M398.4 639.2L400.5 637.6L403.6 640.2L407.8 639.2L411.5 637.1L413.1 640.2L415.2 645.5L412.0 648.6L407.8 647.6L405.7 650.2L402.6 651.3L400.5 649.7L397.3 650.2L394.7 647.6L395.2 646.0L398.4 645.5L398.9 641.8Z" fill="#000" stroke-width="0.8"/>
<circle cx="400.5" cy="640.2" r="0.65" fill="#fff" stroke="none"/>
<circle cx="404.2" cy="641.8" r="0.6" fill="#fff" stroke="none"/>
<circle cx="407.3" cy="641.3" r="0.55" fill="#fff" stroke="none"/>
<circle cx="409.9" cy="640.2" r="0.55" fill="#fff" stroke="none"/>
<circle cx="401.5" cy="644.4" r="0.55" fill="#fff" stroke="none"/>
<circle cx="399.4" cy="647.1" r="0.55" fill="#fff" stroke="none"/>
<circle cx="405.7" cy="644.4" r="0.55" fill="#fff" stroke="none"/>
<circle cx="409.4" cy="643.9" r="0.55" fill="#fff" stroke="none"/>
<circle cx="412.0" cy="644.4" r="0.5" fill="#fff" stroke="none"/>
<circle cx="403.1" cy="649.7" r="0.55" fill="#fff" stroke="none"/>
<circle cx="397.3" cy="647.8" r="0.45" fill="#fff" stroke="none"/>
<circle cx="411.5" cy="647.1" r="0.45" fill="#fff" stroke="none"/>
<circle cx="407.8" cy="646.0" r="0.4" fill="#fff" stroke="none"/>
<path d="M405.7 633.4L408.9 632.9L411.5 630.3L413.6 632.9L417.3 631.8" stroke-width="1.0"/>
<path d="M405.7 633.4L408.9 637.1L411.5 637.1" stroke-width="1.0"/>
<path d="M408.9 632.9L411.0 635.0L413.6 632.9" stroke-width="1.0"/>
<path d="M405.7 635.0L407.8 639.2" stroke-width="1.0"/>
<path d="M556.3 423.2L558.7 422.1L561.8 422.1L562.5 423.2L564.9 423.2L564.9 425.9L562.5 427.3L561.5 428.7L560.1 428.3L559.4 426.6L557.0 426.3Z" fill="#000" stroke-width="0.8"/>
<circle cx="559.4" cy="425.0" r="0.6" fill="#fff" stroke="none"/>
<circle cx="558.4" cy="423.9" r="0.5" fill="#fff" stroke="none"/>
<path d="M542.9 436.9L544.3 435.5L544.6 434.2L548.1 434.2L548.1 435.9L549.1 436.2L548.7 438.6L546.7 438.6L545.3 440.0L544.3 438.3Z" fill="#000" stroke-width="0.8"/>
<path d="M555.3 435.5L556.3 434.2L561.5 434.2L561.8 435.9L565.2 436.2L566.6 434.9L568.0 437.6L567.3 440.4L561.1 440.4L558.4 441.0L557.0 442.8L555.3 441.7L554.9 439.7L555.6 437.6Z" fill="#000" stroke-width="0.8"/>
<path d="M556.6 435.1L559.4 435.1L559.4 436.0L556.6 436.0Z" fill="#fff" stroke="none"/>
<circle cx="557.3" cy="437.6" r="0.55" fill="#fff" stroke="none"/>
<circle cx="559.4" cy="437.6" r="0.55" fill="#fff" stroke="none"/>
<circle cx="566.3" cy="437.6" r="0.5" fill="#fff" stroke="none"/>
<circle cx="560.8" cy="435.5" r="0.45" fill="#fff" stroke="none"/>
</g>
<defs><filter id="nf2" x="-2%" y="-2%" width="104%" height="104%"><feOffset dx="0" dy="0"/></filter></defs><g id="frame">
<rect x="124.3" y="71" width="750.8" height="659" fill="none" stroke="#000" stroke-width="2.2"/>
<g stroke="#000" stroke-width="1.2" fill="none">
<path d="M130.5 731V735.2"/>
<path d="M227.8 731V735.2"/>
<path d="M325.1 731V735.2"/>
<path d="M422.4 731V735.2"/>
<path d="M519.6 731V735.2"/>
<path d="M616.9 731V735.2"/>
<path d="M714.2 731V735.2"/>
<path d="M811.5 731V735.2"/>
<path d="M119.8 113.3H123.5"/>
<path d="M119.8 173.8H123.5"/>
<path d="M119.8 234.3H123.5"/>
<path d="M119.8 294.8H123.5"/>
<path d="M119.8 355.3H123.5"/>
<path d="M119.8 415.8H123.5"/>
<path d="M119.8 476.3H123.5"/>
<path d="M119.8 536.8H123.5"/>
<path d="M119.8 597.3H123.5"/>
<path d="M119.8 657.8H123.5"/>
<path d="M119.8 718.3H123.5"/>
</g>
<g font-size="14" fill="#000" filter="url(#nf2)" transform="scale(0.93,1)">
<text x="140.6" y="748.2" text-anchor="middle">64.9W</text>
<text x="245.3" y="748.2" text-anchor="middle">64.8W</text>
<text x="349.9" y="748.2" text-anchor="middle">64.7W</text>
<text x="454.5" y="748.2" text-anchor="middle">64.6W</text>
<text x="559.1" y="748.2" text-anchor="middle">64.5W</text>
<text x="663.7" y="748.2" text-anchor="middle">64.4W</text>
<text x="768.3" y="748.2" text-anchor="middle">64.3W</text>
<text x="872.9" y="748.2" text-anchor="middle">64.2W</text>
<text x="124.6" y="118.5" text-anchor="end">18.75N</text>
<text x="124.6" y="179.0" text-anchor="end">18.7N</text>
<text x="124.6" y="239.5" text-anchor="end">18.65N</text>
<text x="124.6" y="300.0" text-anchor="end">18.6N</text>
<text x="124.6" y="360.5" text-anchor="end">18.55N</text>
<text x="124.6" y="421.0" text-anchor="end">18.5N</text>
<text x="124.6" y="481.5" text-anchor="end">18.45N</text>
<text x="124.6" y="542.0" text-anchor="end">18.4N</text>
<text x="124.6" y="602.5" text-anchor="end">18.35N</text>
<text x="124.6" y="663.0" text-anchor="end">18.3N</text>
<text x="124.6" y="723.5" text-anchor="end">18.25N</text>
</g></g>
<g id="cbar" stroke="#000" stroke-width="1.1" stroke-linejoin="miter">
<path d="M928.6 116.0L937.4 80.5L946.2 116.0Z" fill="#f00082"/>
<rect x="928.6" y="116.00" width="17.6" height="35.56" fill="#fa3c3c"/>
<rect x="928.6" y="151.56" width="17.6" height="35.56" fill="#ff0000"/>
<rect x="928.6" y="187.12" width="17.6" height="35.56" fill="#ffa0a0"/>
<rect x="928.6" y="222.69" width="17.6" height="35.56" fill="#f08228"/>
<rect x="928.6" y="258.25" width="17.6" height="35.56" fill="#e6af2d"/>
<rect x="928.6" y="293.81" width="17.6" height="35.56" fill="#e6dc32"/>
<rect x="928.6" y="329.38" width="17.6" height="35.56" fill="#a0e632"/>
<rect x="928.6" y="364.94" width="17.6" height="35.56" fill="#00dc00"/>
<rect x="928.6" y="400.50" width="17.6" height="35.56" fill="#00d28c"/>
<rect x="928.6" y="436.06" width="17.6" height="35.56" fill="#00c8c8"/>
<rect x="928.6" y="471.62" width="17.6" height="35.56" fill="#00a0ff"/>
<rect x="928.6" y="507.19" width="17.6" height="35.56" fill="#1e3cff"/>
<rect x="928.6" y="542.75" width="17.6" height="35.56" fill="#4b32ff"/>
<rect x="928.6" y="578.31" width="17.6" height="35.56" fill="#8200dc"/>
<rect x="928.6" y="613.88" width="17.6" height="35.56" fill="#a000c8"/>
<rect x="928.6" y="649.44" width="17.6" height="35.56" fill="#7d7d7d"/>
<path d="M928.6 685L937.4 720.5L946.2 685Z" fill="#fff"/>
</g>
<g font-size="18" filter="url(#nf2)" style="stroke:#fff;stroke-width:.2px">
<text x="952.2" y="122.5" letter-spacing="0.4">100</text>
<text x="952.2" y="158.1" letter-spacing="0.4">90</text>
<text x="952.2" y="193.6" letter-spacing="0.4">80</text>
<text x="952.2" y="229.2" letter-spacing="0.4">70</text>
<text x="952.2" y="264.8" letter-spacing="0.4">60</text>
<text x="952.2" y="300.3" letter-spacing="0.4">50</text>
<text x="952.2" y="335.9" letter-spacing="0.4">40</text>
<text x="952.2" y="371.4" letter-spacing="0.4">35</text>
<text x="952.2" y="407.0" letter-spacing="0.4">30</text>
<text x="952.2" y="442.6" letter-spacing="0.4">25</text>
<text x="952.2" y="478.1" letter-spacing="0.4">20</text>
<text x="952.2" y="513.7" letter-spacing="0.4">15</text>
<text x="952.2" y="549.2" letter-spacing="0.4">10</text>
<text x="952.2" y="584.8" letter-spacing="0.4">5</text>
<text x="952.2" y="620.4" letter-spacing="0.4">2</text>
<text x="952.2" y="655.9" letter-spacing="0.4">1</text>
<text x="952.2" y="691.5" letter-spacing="0.4">0.5</text>
</g>
</svg></body></html>
